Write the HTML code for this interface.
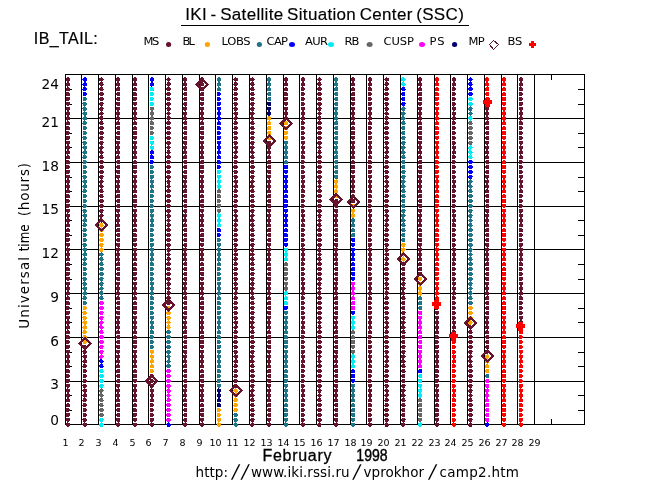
<!DOCTYPE html><html><head><meta charset="utf-8"><title>IKI - Satellite Situation Center (SSC)</title>
<style>html,body{margin:0;padding:0;background:#fff}svg{display:block}.hv{font-family:"Liberation Sans",Arial,Helvetica,sans-serif;fill:#000}.hs{font-family:"DejaVu Sans","Liberation Sans",sans-serif;fill:#000}</style></head><body>
<svg width="650" height="500" viewBox="0 0 650 500">
<rect width="650" height="500" fill="#fff"/>
<path shape-rendering="crispEdges" fill="#000" d="M65 74h1v351h-1zM81 74h1v351h-1zM98 74h1v351h-1zM115 74h1v351h-1zM132 74h1v351h-1zM148 74h1v351h-1zM165 74h1v351h-1zM182 74h1v351h-1zM199 74h1v351h-1zM215 74h1v351h-1zM232 74h1v351h-1zM249 74h1v351h-1zM266 74h1v351h-1zM283 74h1v351h-1zM299 74h1v351h-1zM316 74h1v351h-1zM333 74h1v351h-1zM350 74h1v351h-1zM366 74h1v351h-1zM383 74h1v351h-1zM400 74h1v351h-1zM417 74h1v351h-1zM434 74h1v351h-1zM450 74h1v351h-1zM467 74h1v351h-1zM484 74h1v351h-1zM501 74h1v351h-1zM517 74h1v351h-1zM534 74h1v351h-1zM584 74h1v351h-1zM65 74h520v1h-520zM65 118h520v1h-520zM65 162h520v1h-520zM65 206h520v1h-520zM65 249h520v1h-520zM65 293h520v1h-520zM65 337h520v1h-520zM65 381h520v1h-520zM65 424h520v1h-520zM66 89h6v1h-6zM578 89h6v1h-6zM66 104h6v1h-6zM578 104h6v1h-6zM66 133h6v1h-6zM578 133h6v1h-6zM66 147h6v1h-6zM578 147h6v1h-6zM66 177h6v1h-6zM578 177h6v1h-6zM66 191h6v1h-6zM578 191h6v1h-6zM66 220h6v1h-6zM578 220h6v1h-6zM66 235h6v1h-6zM578 235h6v1h-6zM66 264h6v1h-6zM578 264h6v1h-6zM66 279h6v1h-6zM578 279h6v1h-6zM66 308h6v1h-6zM578 308h6v1h-6zM66 322h6v1h-6zM578 322h6v1h-6zM66 352h6v1h-6zM578 352h6v1h-6zM66 366h6v1h-6zM578 366h6v1h-6zM66 395h6v1h-6zM578 395h6v1h-6zM66 410h6v1h-6zM578 410h6v1h-6zM551 75h1v5h-1zM551 419h1v5h-1z"/>
<path shape-rendering="crispEdges" fill="#66142B" d="M67 422h1v1h-1zM66 423h4v3h-4zM67 426h2v1h-2zM66 418h4v3h-4zM67 421h2v1h-2zM66 413h4v3h-4zM66 416h3v1h-3zM66 408h3v1h-3zM66 409h4v2h-4zM66 411h3v1h-3zM67 403h2v1h-2zM66 404h4v3h-4zM67 398h2v1h-2zM66 399h4v3h-4zM67 393h2v1h-2zM66 394h4v3h-4zM67 397h2v1h-2zM67 388h1v1h-1zM66 389h4v3h-4zM67 392h2v1h-2zM66 384h4v3h-4zM67 387h2v1h-2zM66 379h4v3h-4zM66 382h3v1h-3zM66 374h3v1h-3zM66 375h4v2h-4zM66 377h3v1h-3zM66 369h3v1h-3zM66 370h4v3h-4zM67 364h2v1h-2zM66 365h4v3h-4zM67 359h2v1h-2zM66 360h4v3h-4zM67 363h2v1h-2zM67 354h2v1h-2zM66 355h4v3h-4zM67 358h2v1h-2zM66 350h4v3h-4zM67 353h2v1h-2zM66 345h4v3h-4zM66 348h3v1h-3zM66 340h3v1h-3zM66 341h4v2h-4zM66 343h3v1h-3zM66 335h3v1h-3zM66 336h4v3h-4zM67 330h2v1h-2zM66 331h4v3h-4zM67 325h2v1h-2zM66 326h4v3h-4zM67 329h1v1h-1zM67 320h2v1h-2zM66 321h4v3h-4zM67 324h2v1h-2zM66 316h4v3h-4zM67 319h2v1h-2zM66 311h4v3h-4zM66 314h3v1h-3zM66 306h3v1h-3zM66 307h4v2h-4zM66 309h3v1h-3zM66 301h3v1h-3zM66 302h4v3h-4zM67 296h2v1h-2zM66 297h4v3h-4zM67 291h2v1h-2zM66 292h4v3h-4zM67 295h1v1h-1zM67 286h2v1h-2zM66 287h4v3h-4zM67 290h2v1h-2zM66 282h4v3h-4zM67 285h2v1h-2zM66 277h4v3h-4zM67 280h2v1h-2zM66 272h4v3h-4zM66 275h3v1h-3zM66 267h3v1h-3zM66 268h4v3h-4zM67 262h2v1h-2zM66 263h4v3h-4zM67 257h2v1h-2zM66 258h4v3h-4zM67 252h2v1h-2zM66 253h4v3h-4zM67 256h2v1h-2zM67 247h1v1h-1zM66 248h4v3h-4zM67 251h2v1h-2zM66 243h4v3h-4zM67 246h2v1h-2zM66 238h4v3h-4zM66 241h3v1h-3zM66 233h3v1h-3zM66 234h4v2h-4zM66 236h3v1h-3zM67 228h2v1h-2zM66 229h4v3h-4zM67 223h2v1h-2zM66 224h4v3h-4zM67 218h2v1h-2zM66 219h4v3h-4zM67 222h2v1h-2zM67 213h1v1h-1zM66 214h4v3h-4zM67 217h2v1h-2zM66 209h4v3h-4zM67 212h2v1h-2zM66 204h4v3h-4zM66 207h3v1h-3zM66 199h3v1h-3zM66 200h4v2h-4zM66 202h3v1h-3zM66 194h3v1h-3zM66 195h4v3h-4zM67 189h2v1h-2zM66 190h4v3h-4zM67 184h2v1h-2zM66 185h4v3h-4zM67 188h2v1h-2zM67 179h2v1h-2zM66 180h4v3h-4zM67 183h2v1h-2zM66 175h4v3h-4zM67 178h2v1h-2zM66 170h4v3h-4zM66 173h3v1h-3zM66 165h3v1h-3zM66 166h4v2h-4zM66 168h3v1h-3zM66 160h3v1h-3zM66 161h4v3h-4zM67 155h2v1h-2zM66 156h4v3h-4zM67 150h2v1h-2zM66 151h4v3h-4zM67 154h1v1h-1zM67 145h2v1h-2zM66 146h4v3h-4zM67 149h2v1h-2zM66 141h4v3h-4zM67 144h2v1h-2zM66 136h4v3h-4zM66 139h3v1h-3zM66 131h3v1h-3zM66 132h4v2h-4zM66 134h3v1h-3zM66 126h3v1h-3zM66 127h4v3h-4zM67 121h2v1h-2zM66 122h4v3h-4zM67 116h2v1h-2zM66 117h4v3h-4zM67 120h1v1h-1zM67 111h2v1h-2zM66 112h4v3h-4zM67 115h2v1h-2zM66 107h4v3h-4zM67 110h2v1h-2zM66 102h4v3h-4zM67 105h2v1h-2zM66 97h4v3h-4zM66 100h3v1h-3zM66 92h3v1h-3zM66 93h4v3h-4zM67 87h2v1h-2zM66 88h4v3h-4zM67 82h2v1h-2zM66 83h4v3h-4zM67 86h1v1h-1zM67 77h2v1h-2zM66 78h4v3h-4zM67 81h2v1h-2zM84 422h1v1h-1zM83 423h4v1h-4zM82 424h5v1h-5zM83 425h4v1h-4zM84 426h2v1h-2zM83 418h3v1h-3zM82 419h5v1h-5zM83 420h4v1h-4zM83 421h3v1h-3zM83 413h3v1h-3zM83 414h4v2h-4zM83 416h3v1h-3zM83 408h3v1h-3zM83 409h4v2h-4zM83 411h3v1h-3zM83 403h3v1h-3zM83 404h4v1h-4zM82 405h5v1h-5zM83 406h3v1h-3zM83 398h3v1h-3zM83 399h4v1h-4zM82 400h5v1h-5zM83 401h3v1h-3zM84 393h2v1h-2zM83 394h4v1h-4zM82 395h5v1h-5zM83 396h4v1h-4zM84 397h1v1h-1zM84 388h1v1h-1zM83 389h4v1h-4zM82 390h5v1h-5zM83 391h4v1h-4zM84 392h2v1h-2zM83 384h3v1h-3zM82 385h5v1h-5zM83 386h4v1h-4zM83 387h3v1h-3zM83 379h3v1h-3zM83 380h4v2h-4zM83 382h3v1h-3zM83 374h3v1h-3zM83 375h4v2h-4zM83 377h3v1h-3zM83 369h3v1h-3zM83 370h4v2h-4zM83 372h3v1h-3zM83 364h3v1h-3zM83 365h4v1h-4zM82 366h5v1h-5zM83 367h3v1h-3zM84 359h2v1h-2zM83 360h4v1h-4zM82 361h5v1h-5zM83 362h4v1h-4zM84 363h1v1h-1zM84 354h1v1h-1zM83 355h4v1h-4zM82 356h5v1h-5zM83 357h4v1h-4zM84 358h2v1h-2zM83 350h3v1h-3zM82 351h5v1h-5zM83 352h4v1h-4zM83 353h3v1h-3zM83 345h3v1h-3zM83 346h4v2h-4zM83 348h3v1h-3zM100 218h2v1h-2zM99 219h4v1h-4zM99 220h5v1h-5zM100 221h3v1h-3zM101 222h1v1h-1zM101 213h1v1h-1zM100 214h3v1h-3zM99 215h5v1h-5zM99 216h4v1h-4zM100 217h2v1h-2zM100 209h3v1h-3zM99 210h5v1h-5zM99 211h4v1h-4zM100 212h3v1h-3zM100 204h3v1h-3zM99 205h5v2h-5zM100 207h3v1h-3zM100 199h3v1h-3zM99 200h5v2h-5zM100 202h3v1h-3zM100 194h3v1h-3zM99 195h4v1h-4zM99 196h5v1h-5zM100 197h3v1h-3zM100 189h3v1h-3zM99 190h4v1h-4zM99 191h5v1h-5zM100 192h3v1h-3zM100 184h2v1h-2zM99 185h4v1h-4zM99 186h5v1h-5zM100 187h3v1h-3zM101 188h1v1h-1zM101 179h1v1h-1zM100 180h3v1h-3zM99 181h5v1h-5zM99 182h4v1h-4zM100 183h2v1h-2zM100 175h3v1h-3zM99 176h5v1h-5zM99 177h4v1h-4zM100 178h3v1h-3zM100 170h3v1h-3zM99 171h5v2h-5zM100 173h3v1h-3zM100 165h3v1h-3zM99 166h5v2h-5zM100 168h3v1h-3zM100 160h3v1h-3zM99 161h5v2h-5zM100 163h3v1h-3zM100 155h3v1h-3zM99 156h4v1h-4zM99 157h5v1h-5zM100 158h3v1h-3zM100 150h2v1h-2zM99 151h4v1h-4zM99 152h5v1h-5zM100 153h3v1h-3zM101 154h1v1h-1zM101 145h1v1h-1zM100 146h3v1h-3zM99 147h5v1h-5zM99 148h4v1h-4zM100 149h2v1h-2zM100 141h3v1h-3zM99 142h5v1h-5zM99 143h4v1h-4zM100 144h3v1h-3zM100 136h3v1h-3zM99 137h5v1h-5zM99 138h4v1h-4zM100 139h3v1h-3zM100 131h3v1h-3zM99 132h5v2h-5zM100 134h3v1h-3zM100 126h3v1h-3zM99 127h5v2h-5zM100 129h3v1h-3zM100 121h3v1h-3zM99 122h4v1h-4zM99 123h5v1h-5zM100 124h3v1h-3zM100 116h3v1h-3zM99 117h4v1h-4zM99 118h5v1h-5zM100 119h3v1h-3zM101 120h1v1h-1zM101 111h1v1h-1zM100 112h3v1h-3zM99 113h5v1h-5zM99 114h4v1h-4zM101 115h1v1h-1zM101 106h1v1h-1zM100 107h3v1h-3zM99 108h5v1h-5zM99 109h4v1h-4zM100 110h3v1h-3zM100 102h3v1h-3zM99 103h5v1h-5zM99 104h4v1h-4zM100 105h3v1h-3zM100 97h3v1h-3zM99 98h5v2h-5zM100 100h3v1h-3zM100 92h3v1h-3zM99 93h5v2h-5zM100 95h3v1h-3zM100 87h3v1h-3zM99 88h4v1h-4zM99 89h5v1h-5zM100 90h3v1h-3zM100 82h3v1h-3zM99 83h4v1h-4zM99 84h5v1h-5zM100 85h3v1h-3zM101 86h1v1h-1zM101 77h1v1h-1zM99 78h4v1h-4zM99 79h5v1h-5zM99 80h4v1h-4zM101 81h1v1h-1zM118 422h1v1h-1zM116 423h4v3h-4zM117 426h2v1h-2zM116 418h4v3h-4zM117 421h3v1h-3zM117 413h3v1h-3zM116 414h4v2h-4zM117 416h3v1h-3zM117 408h3v1h-3zM116 409h4v2h-4zM117 411h3v1h-3zM117 403h3v1h-3zM116 404h4v3h-4zM117 398h2v1h-2zM116 399h4v3h-4zM117 393h2v1h-2zM116 394h4v3h-4zM117 397h2v1h-2zM118 388h1v1h-1zM116 389h4v3h-4zM117 392h2v1h-2zM116 384h4v3h-4zM117 387h2v1h-2zM117 379h3v1h-3zM116 380h4v2h-4zM117 382h3v1h-3zM117 374h3v1h-3zM116 375h4v2h-4zM117 377h3v1h-3zM117 369h3v1h-3zM116 370h4v3h-4zM117 364h2v1h-2zM116 365h4v3h-4zM117 359h2v1h-2zM116 360h4v3h-4zM118 363h1v1h-1zM118 354h1v1h-1zM116 355h4v3h-4zM117 358h2v1h-2zM116 350h4v3h-4zM117 353h2v1h-2zM116 345h4v3h-4zM117 348h3v1h-3zM117 340h3v1h-3zM116 341h4v2h-4zM117 343h3v1h-3zM117 335h3v1h-3zM116 336h4v2h-4zM117 338h3v1h-3zM117 330h2v1h-2zM116 331h4v3h-4zM117 325h2v1h-2zM116 326h4v3h-4zM118 329h1v1h-1zM117 320h2v1h-2zM116 321h4v3h-4zM117 324h2v1h-2zM116 316h4v3h-4zM117 319h2v1h-2zM116 311h4v3h-4zM117 314h3v1h-3zM117 306h3v1h-3zM116 307h4v2h-4zM117 309h3v1h-3zM117 301h3v1h-3zM116 302h4v2h-4zM117 304h3v1h-3zM117 296h2v1h-2zM116 297h4v3h-4zM117 291h2v1h-2zM116 292h4v3h-4zM118 295h1v1h-1zM117 286h2v1h-2zM116 287h4v3h-4zM117 290h2v1h-2zM116 282h4v3h-4zM117 285h2v1h-2zM116 277h4v3h-4zM117 280h3v1h-3zM117 272h3v1h-3zM116 273h4v2h-4zM117 275h3v1h-3zM117 267h3v1h-3zM116 268h4v2h-4zM117 270h3v1h-3zM117 262h3v1h-3zM116 263h4v3h-4zM117 257h2v1h-2zM116 258h4v3h-4zM118 261h1v1h-1zM117 252h2v1h-2zM116 253h4v3h-4zM117 256h2v1h-2zM118 247h1v1h-1zM116 248h4v3h-4zM117 251h2v1h-2zM116 243h4v3h-4zM117 246h3v1h-3zM117 238h3v1h-3zM116 239h4v2h-4zM117 241h3v1h-3zM117 233h3v1h-3zM116 234h4v2h-4zM117 236h3v1h-3zM117 228h3v1h-3zM116 229h4v3h-4zM117 223h2v1h-2zM116 224h4v3h-4zM117 218h2v1h-2zM116 219h4v3h-4zM117 222h2v1h-2zM118 213h1v1h-1zM116 214h4v3h-4zM117 217h2v1h-2zM116 209h4v3h-4zM117 212h2v1h-2zM117 204h3v1h-3zM116 205h4v2h-4zM117 207h3v1h-3zM117 199h3v1h-3zM116 200h4v2h-4zM117 202h3v1h-3zM117 194h3v1h-3zM116 195h4v3h-4zM117 189h2v1h-2zM116 190h4v3h-4zM117 184h2v1h-2zM116 185h4v3h-4zM117 188h2v1h-2zM118 179h1v1h-1zM116 180h4v3h-4zM117 183h2v1h-2zM116 175h4v3h-4zM117 178h2v1h-2zM116 170h4v3h-4zM117 173h3v1h-3zM117 165h3v1h-3zM116 166h4v2h-4zM117 168h3v1h-3zM117 160h3v1h-3zM116 161h4v2h-4zM117 163h3v1h-3zM117 155h2v1h-2zM116 156h4v3h-4zM117 150h2v1h-2zM116 151h4v3h-4zM118 154h1v1h-1zM117 145h2v1h-2zM116 146h4v3h-4zM117 149h2v1h-2zM116 141h4v3h-4zM117 144h2v1h-2zM116 136h4v3h-4zM117 139h3v1h-3zM117 131h3v1h-3zM116 132h4v2h-4zM117 134h3v1h-3zM117 126h3v1h-3zM116 127h4v2h-4zM117 129h3v1h-3zM117 121h2v1h-2zM116 122h4v3h-4zM117 116h2v1h-2zM116 117h4v3h-4zM118 120h1v1h-1zM117 111h2v1h-2zM116 112h4v3h-4zM117 115h2v1h-2zM116 107h4v3h-4zM117 110h2v1h-2zM116 102h4v3h-4zM117 105h3v1h-3zM117 97h3v1h-3zM116 98h4v2h-4zM117 100h3v1h-3zM117 92h3v1h-3zM116 93h4v2h-4zM117 95h3v1h-3zM117 87h3v1h-3zM116 88h4v3h-4zM117 82h2v1h-2zM116 83h4v3h-4zM118 86h1v1h-1zM117 77h2v1h-2zM116 78h4v3h-4zM117 81h2v1h-2zM133 423h4v3h-4zM134 426h2v1h-2zM133 418h4v3h-4zM134 421h2v1h-2zM133 413h4v3h-4zM133 416h3v1h-3zM133 408h3v1h-3zM133 409h4v3h-4zM134 403h2v1h-2zM133 404h4v3h-4zM134 398h2v1h-2zM133 399h4v3h-4zM134 393h2v1h-2zM133 394h4v3h-4zM134 397h2v1h-2zM134 388h2v1h-2zM133 389h4v3h-4zM134 392h2v1h-2zM133 384h4v3h-4zM134 387h2v1h-2zM133 379h4v3h-4zM134 382h2v1h-2zM133 374h4v4h-4zM134 369h2v1h-2zM133 370h4v3h-4zM134 364h2v1h-2zM133 365h4v3h-4zM134 359h2v1h-2zM133 360h4v3h-4zM134 363h2v1h-2zM134 354h2v1h-2zM133 355h4v3h-4zM134 358h2v1h-2zM133 350h4v3h-4zM134 353h2v1h-2zM133 345h4v3h-4zM134 348h2v1h-2zM133 340h4v4h-4zM134 335h2v1h-2zM133 336h4v3h-4zM134 330h2v1h-2zM133 331h4v3h-4zM134 325h2v1h-2zM133 326h4v3h-4zM134 329h2v1h-2zM134 320h2v1h-2zM133 321h4v3h-4zM134 324h2v1h-2zM133 316h4v3h-4zM134 319h2v1h-2zM133 311h4v3h-4zM134 314h2v1h-2zM133 306h4v4h-4zM134 301h2v1h-2zM133 302h4v3h-4zM134 296h2v1h-2zM133 297h4v3h-4zM134 291h2v1h-2zM133 292h4v3h-4zM134 295h1v1h-1zM134 286h2v1h-2zM133 287h4v3h-4zM134 290h2v1h-2zM133 282h4v3h-4zM134 285h2v1h-2zM133 277h4v3h-4zM134 280h2v1h-2zM133 272h4v3h-4zM133 275h3v1h-3zM133 267h3v1h-3zM133 268h4v3h-4zM134 262h2v1h-2zM133 263h4v3h-4zM134 257h2v1h-2zM133 258h4v3h-4zM134 252h2v1h-2zM133 253h4v3h-4zM134 256h2v1h-2zM133 248h4v3h-4zM134 251h2v1h-2zM133 243h4v3h-4zM134 246h2v1h-2zM133 238h4v3h-4zM133 241h3v1h-3zM133 233h3v1h-3zM133 234h4v3h-4zM134 228h2v1h-2zM133 229h4v3h-4zM134 223h2v1h-2zM133 224h4v3h-4zM134 218h2v1h-2zM133 219h4v3h-4zM134 222h2v1h-2zM134 213h2v1h-2zM133 214h4v3h-4zM134 217h2v1h-2zM133 209h4v3h-4zM134 212h2v1h-2zM133 204h4v3h-4zM134 207h2v1h-2zM133 199h4v4h-4zM134 194h2v1h-2zM133 195h4v3h-4zM134 189h2v1h-2zM133 190h4v3h-4zM134 184h2v1h-2zM133 185h4v3h-4zM134 188h2v1h-2zM134 179h2v1h-2zM133 180h4v3h-4zM134 183h2v1h-2zM133 175h4v3h-4zM134 178h2v1h-2zM133 170h4v3h-4zM134 173h2v1h-2zM133 165h4v4h-4zM134 160h2v1h-2zM133 161h4v3h-4zM134 155h2v1h-2zM133 156h4v3h-4zM134 150h2v1h-2zM133 151h4v3h-4zM134 154h2v1h-2zM134 145h2v1h-2zM133 146h4v3h-4zM134 149h2v1h-2zM133 141h4v3h-4zM134 144h2v1h-2zM133 136h4v3h-4zM134 139h2v1h-2zM133 131h4v4h-4zM134 126h2v1h-2zM133 127h4v3h-4zM134 121h2v1h-2zM133 122h4v3h-4zM134 116h2v1h-2zM133 117h4v3h-4zM134 120h1v1h-1zM134 111h2v1h-2zM133 112h4v3h-4zM134 115h2v1h-2zM133 107h4v3h-4zM134 110h2v1h-2zM133 102h4v3h-4zM134 105h2v1h-2zM133 97h4v3h-4zM133 100h3v1h-3zM133 92h3v1h-3zM133 93h4v3h-4zM134 87h2v1h-2zM133 88h4v3h-4zM134 82h2v1h-2zM133 83h4v3h-4zM134 77h2v1h-2zM133 78h4v3h-4zM134 81h2v1h-2zM151 422h1v1h-1zM150 423h4v3h-4zM151 426h2v1h-2zM150 418h4v3h-4zM150 421h3v1h-3zM150 413h3v1h-3zM150 414h4v2h-4zM150 416h3v1h-3zM150 408h3v1h-3zM150 409h4v2h-4zM150 411h3v1h-3zM150 403h3v1h-3zM150 404h4v2h-4zM150 406h3v1h-3zM151 398h2v1h-2zM150 399h4v3h-4zM151 393h2v1h-2zM150 394h4v3h-4zM151 397h2v1h-2zM151 388h1v1h-1zM150 389h4v3h-4zM151 392h2v1h-2zM150 384h4v3h-4zM150 387h3v1h-3zM150 379h3v1h-3zM150 380h4v2h-4zM150 382h3v1h-3zM150 374h3v1h-3zM150 375h4v2h-4zM150 377h3v1h-3zM167 301h3v1h-3zM166 302h5v2h-5zM167 304h3v1h-3zM167 296h3v1h-3zM166 297h5v2h-5zM167 299h3v1h-3zM167 291h3v1h-3zM167 292h4v1h-4zM166 293h5v1h-5zM167 294h3v1h-3zM168 295h1v1h-1zM168 286h1v1h-1zM167 287h3v1h-3zM166 288h5v1h-5zM167 289h3v1h-3zM168 290h1v1h-1zM168 281h1v1h-1zM167 282h3v1h-3zM166 283h5v1h-5zM167 284h4v1h-4zM167 285h3v1h-3zM167 277h3v1h-3zM166 278h5v2h-5zM167 280h3v1h-3zM167 272h3v1h-3zM166 273h5v2h-5zM167 275h3v1h-3zM167 267h3v1h-3zM166 268h5v2h-5zM167 270h3v1h-3zM167 262h3v1h-3zM166 263h5v2h-5zM167 265h3v1h-3zM167 257h3v1h-3zM167 258h4v1h-4zM166 259h5v1h-5zM167 260h3v1h-3zM168 261h1v1h-1zM168 252h1v1h-1zM167 253h3v1h-3zM166 254h5v1h-5zM167 255h3v1h-3zM168 256h1v1h-1zM168 247h1v1h-1zM167 248h3v1h-3zM166 249h5v1h-5zM167 250h4v1h-4zM167 251h3v1h-3zM167 243h3v1h-3zM166 244h5v2h-5zM167 246h3v1h-3zM167 238h3v1h-3zM166 239h5v2h-5zM167 241h3v1h-3zM167 233h3v1h-3zM166 234h5v2h-5zM167 236h3v1h-3zM167 228h3v1h-3zM166 229h5v2h-5zM167 231h3v1h-3zM167 223h3v1h-3zM167 224h4v1h-4zM166 225h5v1h-5zM167 226h3v1h-3zM168 227h1v1h-1zM168 218h1v1h-1zM167 219h3v1h-3zM166 220h5v1h-5zM167 221h3v1h-3zM168 222h1v1h-1zM168 213h1v1h-1zM167 214h3v1h-3zM166 215h5v1h-5zM167 216h4v1h-4zM167 217h3v1h-3zM167 209h3v1h-3zM166 210h5v2h-5zM167 212h3v1h-3zM167 204h3v1h-3zM166 205h5v2h-5zM167 207h3v1h-3zM167 199h3v1h-3zM166 200h5v2h-5zM167 202h3v1h-3zM167 194h3v1h-3zM166 195h5v2h-5zM167 197h3v1h-3zM167 189h3v1h-3zM166 190h5v2h-5zM167 192h3v1h-3zM168 184h2v1h-2zM167 185h3v1h-3zM166 186h5v1h-5zM167 187h3v1h-3zM168 188h1v1h-1zM168 179h1v1h-1zM167 180h3v1h-3zM166 181h5v1h-5zM167 182h3v2h-3zM167 175h3v1h-3zM166 176h5v2h-5zM167 178h3v1h-3zM167 170h3v1h-3zM166 171h5v2h-5zM167 173h3v1h-3zM167 165h3v1h-3zM166 166h5v2h-5zM167 168h3v1h-3zM167 160h3v1h-3zM166 161h5v2h-5zM167 163h3v1h-3zM167 155h3v1h-3zM166 156h5v2h-5zM167 158h3v1h-3zM167 150h3v2h-3zM166 152h5v1h-5zM167 153h3v1h-3zM168 154h1v1h-1zM168 145h1v1h-1zM167 146h3v1h-3zM166 147h5v1h-5zM167 148h3v1h-3zM168 149h1v1h-1zM167 141h3v1h-3zM166 142h5v2h-5zM167 144h3v1h-3zM167 136h3v1h-3zM166 137h5v2h-5zM167 139h3v1h-3zM167 131h3v1h-3zM166 132h5v2h-5zM167 134h3v1h-3zM167 126h3v1h-3zM166 127h5v2h-5zM167 129h3v1h-3zM167 121h3v1h-3zM166 122h5v2h-5zM167 124h3v1h-3zM167 116h3v1h-3zM167 117h4v1h-4zM166 118h5v1h-5zM167 119h3v1h-3zM168 120h1v1h-1zM168 111h1v1h-1zM167 112h3v1h-3zM166 113h5v1h-5zM167 114h3v1h-3zM168 115h1v1h-1zM168 106h1v1h-1zM167 107h3v1h-3zM166 108h5v1h-5zM167 109h4v1h-4zM167 110h3v1h-3zM167 102h3v1h-3zM166 103h5v2h-5zM167 105h3v1h-3zM167 97h3v1h-3zM166 98h5v2h-5zM167 100h3v1h-3zM167 92h3v1h-3zM166 93h5v2h-5zM167 95h3v1h-3zM167 87h3v1h-3zM166 88h5v2h-5zM167 90h3v1h-3zM167 82h3v1h-3zM167 83h4v1h-4zM166 84h5v1h-5zM167 85h3v1h-3zM168 86h1v1h-1zM168 77h1v1h-1zM167 78h3v1h-3zM166 79h5v1h-5zM167 80h3v1h-3zM168 81h1v1h-1zM185 422h1v1h-1zM183 423h4v3h-4zM184 426h2v1h-2zM184 418h3v1h-3zM183 419h4v2h-4zM184 421h3v1h-3zM184 413h3v1h-3zM183 414h4v2h-4zM184 416h3v1h-3zM184 408h3v1h-3zM183 409h4v2h-4zM184 411h3v1h-3zM184 403h3v1h-3zM183 404h4v2h-4zM184 406h3v1h-3zM184 398h2v1h-2zM183 399h4v3h-4zM184 393h2v1h-2zM183 394h4v3h-4zM185 397h1v1h-1zM185 388h1v1h-1zM183 389h4v3h-4zM184 392h2v1h-2zM184 384h3v1h-3zM183 385h4v2h-4zM184 387h3v1h-3zM184 379h3v1h-3zM183 380h4v2h-4zM184 382h3v1h-3zM184 374h3v1h-3zM183 375h4v2h-4zM184 377h3v1h-3zM184 369h3v1h-3zM183 370h4v2h-4zM184 372h3v1h-3zM184 364h3v1h-3zM183 365h4v3h-4zM184 359h2v1h-2zM183 360h4v3h-4zM185 363h1v1h-1zM185 354h1v1h-1zM183 355h4v3h-4zM184 358h2v1h-2zM183 350h4v3h-4zM184 353h3v1h-3zM184 345h3v1h-3zM183 346h4v2h-4zM184 348h3v1h-3zM184 340h3v1h-3zM183 341h4v2h-4zM184 343h3v1h-3zM184 335h3v1h-3zM183 336h4v2h-4zM184 338h3v1h-3zM184 330h3v1h-3zM183 331h4v3h-4zM184 325h2v1h-2zM183 326h4v3h-4zM185 329h1v1h-1zM185 320h1v1h-1zM183 321h4v3h-4zM184 324h2v1h-2zM183 316h4v3h-4zM184 319h2v1h-2zM184 311h3v1h-3zM183 312h4v2h-4zM184 314h3v1h-3zM184 306h3v1h-3zM183 307h4v2h-4zM184 309h3v1h-3zM184 301h3v1h-3zM183 302h4v2h-4zM184 304h3v1h-3zM184 296h3v1h-3zM183 297h4v2h-4zM184 299h3v1h-3zM184 291h2v1h-2zM183 292h4v3h-4zM185 295h1v1h-1zM184 286h2v1h-2zM183 287h4v3h-4zM184 290h2v1h-2zM185 281h1v1h-1zM183 282h4v3h-4zM184 285h2v1h-2zM184 277h3v1h-3zM183 278h4v2h-4zM184 280h3v1h-3zM184 272h3v1h-3zM183 273h4v2h-4zM184 275h3v1h-3zM184 267h3v1h-3zM183 268h4v2h-4zM184 270h3v1h-3zM184 262h3v1h-3zM183 263h4v2h-4zM184 265h3v1h-3zM184 257h2v1h-2zM183 258h4v3h-4zM185 261h1v1h-1zM184 252h2v1h-2zM183 253h4v3h-4zM184 256h2v1h-2zM185 247h1v1h-1zM183 248h4v3h-4zM184 251h2v1h-2zM184 243h3v1h-3zM183 244h4v2h-4zM184 246h3v1h-3zM184 238h3v1h-3zM183 239h4v2h-4zM184 241h3v1h-3zM184 233h3v1h-3zM183 234h4v2h-4zM184 236h3v1h-3zM184 228h3v1h-3zM183 229h4v2h-4zM184 231h3v1h-3zM184 223h2v1h-2zM183 224h4v3h-4zM184 218h2v1h-2zM183 219h4v3h-4zM185 222h1v1h-1zM185 213h1v1h-1zM183 214h4v3h-4zM184 217h2v1h-2zM184 209h3v1h-3zM183 210h4v2h-4zM184 212h3v1h-3zM184 204h3v1h-3zM183 205h4v2h-4zM184 207h3v1h-3zM184 199h3v1h-3zM183 200h4v2h-4zM184 202h3v1h-3zM184 194h3v1h-3zM183 195h4v2h-4zM184 197h3v1h-3zM184 189h3v1h-3zM183 190h4v3h-4zM184 184h2v1h-2zM183 185h4v3h-4zM185 188h1v1h-1zM185 179h1v1h-1zM183 180h4v3h-4zM184 183h2v1h-2zM183 175h4v3h-4zM184 178h3v1h-3zM184 170h3v1h-3zM183 171h4v2h-4zM184 173h3v1h-3zM184 165h3v1h-3zM183 166h4v2h-4zM184 168h3v1h-3zM184 160h3v1h-3zM183 161h4v2h-4zM184 163h3v1h-3zM184 155h3v1h-3zM183 156h4v3h-4zM184 150h2v1h-2zM183 151h4v3h-4zM185 154h1v1h-1zM185 145h1v1h-1zM183 146h4v3h-4zM184 149h2v1h-2zM183 141h4v3h-4zM184 144h3v1h-3zM184 136h3v1h-3zM183 137h4v2h-4zM184 139h3v1h-3zM184 131h3v1h-3zM183 132h4v2h-4zM184 134h3v1h-3zM184 126h3v1h-3zM183 127h4v2h-4zM184 129h3v1h-3zM184 121h3v1h-3zM183 122h4v2h-4zM184 124h3v1h-3zM184 116h2v1h-2zM183 117h4v3h-4zM185 120h1v1h-1zM185 111h1v1h-1zM183 112h4v3h-4zM184 115h2v1h-2zM185 106h1v1h-1zM183 107h4v3h-4zM184 110h2v1h-2zM184 102h3v1h-3zM183 103h4v2h-4zM184 105h3v1h-3zM184 97h3v1h-3zM183 98h4v2h-4zM184 100h3v1h-3zM184 92h3v1h-3zM183 93h4v2h-4zM184 95h3v1h-3zM184 87h3v1h-3zM183 88h4v2h-4zM184 90h3v1h-3zM184 82h2v1h-2zM183 83h4v3h-4zM185 86h1v1h-1zM184 77h2v1h-2zM183 78h4v3h-4zM184 81h2v1h-2zM202 422h1v1h-1zM200 423h4v3h-4zM201 426h2v1h-2zM200 418h4v3h-4zM201 421h2v1h-2zM200 413h4v3h-4zM201 416h3v1h-3zM201 408h3v1h-3zM200 409h4v3h-4zM201 403h2v1h-2zM200 404h4v3h-4zM201 398h2v1h-2zM200 399h4v3h-4zM201 393h2v1h-2zM200 394h4v3h-4zM201 397h2v1h-2zM202 388h1v1h-1zM200 389h4v3h-4zM201 392h2v1h-2zM200 384h4v3h-4zM201 387h2v1h-2zM200 379h4v3h-4zM201 382h3v1h-3zM201 374h3v1h-3zM200 375h4v3h-4zM201 369h2v1h-2zM200 370h4v3h-4zM201 364h2v1h-2zM200 365h4v3h-4zM201 359h2v1h-2zM200 360h4v3h-4zM201 363h2v1h-2zM201 354h2v1h-2zM200 355h4v3h-4zM201 358h2v1h-2zM200 350h4v3h-4zM201 353h2v1h-2zM200 345h4v3h-4zM201 348h2v1h-2zM200 340h4v4h-4zM201 335h3v1h-3zM200 336h4v3h-4zM201 330h2v1h-2zM200 331h4v3h-4zM201 325h2v1h-2zM200 326h4v3h-4zM201 329h2v1h-2zM201 320h2v1h-2zM200 321h4v3h-4zM201 324h2v1h-2zM200 316h4v3h-4zM201 319h2v1h-2zM200 311h4v3h-4zM201 314h2v1h-2zM200 306h4v3h-4zM201 309h3v1h-3zM201 301h3v1h-3zM200 302h4v3h-4zM201 296h2v1h-2zM200 297h4v3h-4zM201 291h2v1h-2zM200 292h4v3h-4zM202 295h1v1h-1zM201 286h2v1h-2zM200 287h4v3h-4zM201 290h2v1h-2zM200 282h4v3h-4zM201 285h2v1h-2zM200 277h4v3h-4zM201 280h2v1h-2zM200 272h4v3h-4zM201 275h3v1h-3zM201 267h3v1h-3zM200 268h4v3h-4zM201 262h2v1h-2zM200 263h4v3h-4zM201 257h2v1h-2zM200 258h4v3h-4zM201 252h2v1h-2zM200 253h4v3h-4zM201 256h2v1h-2zM200 248h4v3h-4zM201 251h2v1h-2zM200 243h4v3h-4zM201 246h2v1h-2zM200 238h4v3h-4zM201 241h3v1h-3zM201 233h3v1h-3zM200 234h4v3h-4zM201 228h2v1h-2zM200 229h4v3h-4zM201 223h2v1h-2zM200 224h4v3h-4zM201 218h2v1h-2zM200 219h4v3h-4zM201 222h2v1h-2zM202 213h1v1h-1zM200 214h4v3h-4zM201 217h2v1h-2zM200 209h4v3h-4zM201 212h2v1h-2zM200 204h4v3h-4zM201 207h3v1h-3zM201 199h3v1h-3zM200 200h4v3h-4zM201 194h2v1h-2zM200 195h4v3h-4zM201 189h2v1h-2zM200 190h4v3h-4zM201 184h2v1h-2zM200 185h4v3h-4zM201 188h2v1h-2zM201 179h2v1h-2zM200 180h4v3h-4zM201 183h2v1h-2zM200 175h4v3h-4zM201 178h2v1h-2zM200 170h4v3h-4zM201 173h2v1h-2zM200 165h4v4h-4zM201 160h3v1h-3zM200 161h4v3h-4zM201 155h2v1h-2zM200 156h4v3h-4zM201 150h2v1h-2zM200 151h4v3h-4zM201 154h2v1h-2zM201 145h2v1h-2zM200 146h4v3h-4zM201 149h2v1h-2zM200 141h4v3h-4zM201 144h2v1h-2zM200 136h4v3h-4zM201 139h2v1h-2zM200 131h4v3h-4zM201 134h3v1h-3zM201 126h3v1h-3zM200 127h4v3h-4zM201 121h2v1h-2zM200 122h4v3h-4zM201 116h2v1h-2zM200 117h4v3h-4zM202 120h1v1h-1zM201 111h2v1h-2zM200 112h4v3h-4zM201 115h2v1h-2zM200 107h4v3h-4zM201 110h2v1h-2zM200 102h4v3h-4zM201 105h2v1h-2zM200 97h4v3h-4zM201 100h3v1h-3zM201 92h3v1h-3zM200 93h4v3h-4zM201 87h2v1h-2zM200 88h4v3h-4zM201 82h2v1h-2zM200 83h4v3h-4zM201 77h2v1h-2zM200 78h4v3h-4zM201 81h2v1h-2zM234 384h3v1h-3zM233 385h5v1h-5zM234 386h4v1h-4zM234 387h3v1h-3zM234 379h3v1h-3zM233 380h5v1h-5zM234 381h4v1h-4zM234 382h3v1h-3zM234 374h3v1h-3zM234 375h4v1h-4zM233 376h5v1h-5zM234 377h3v1h-3zM234 369h3v1h-3zM234 370h4v1h-4zM233 371h5v1h-5zM234 372h3v1h-3zM234 364h3v1h-3zM234 365h4v1h-4zM233 366h5v1h-5zM234 367h3v1h-3zM235 359h2v1h-2zM234 360h4v1h-4zM233 361h5v1h-5zM234 362h4v1h-4zM235 363h1v1h-1zM235 354h1v1h-1zM234 355h4v1h-4zM233 356h5v1h-5zM234 357h4v1h-4zM235 358h2v1h-2zM234 350h3v1h-3zM233 351h5v1h-5zM234 352h4v1h-4zM234 353h3v1h-3zM234 345h3v1h-3zM233 346h5v1h-5zM234 347h4v1h-4zM234 348h3v1h-3zM234 340h3v1h-3zM233 341h5v2h-5zM234 343h3v1h-3zM234 335h3v1h-3zM234 336h4v1h-4zM233 337h5v1h-5zM234 338h3v1h-3zM234 330h3v1h-3zM234 331h4v1h-4zM233 332h5v1h-5zM234 333h3v1h-3zM235 325h2v1h-2zM234 326h4v1h-4zM233 327h5v1h-5zM234 328h3v1h-3zM235 329h1v1h-1zM235 320h1v1h-1zM234 321h4v1h-4zM233 322h5v1h-5zM234 323h4v1h-4zM235 324h2v1h-2zM234 316h3v1h-3zM233 317h5v1h-5zM234 318h4v1h-4zM234 319h3v1h-3zM234 311h3v1h-3zM233 312h5v1h-5zM234 313h4v1h-4zM234 314h3v1h-3zM234 306h3v1h-3zM233 307h5v1h-5zM234 308h4v1h-4zM234 309h3v1h-3zM234 301h3v1h-3zM234 302h4v1h-4zM233 303h5v1h-5zM234 304h3v1h-3zM234 296h3v1h-3zM234 297h4v1h-4zM233 298h5v1h-5zM234 299h3v1h-3zM235 291h2v1h-2zM234 292h4v1h-4zM233 293h5v1h-5zM234 294h3v1h-3zM235 295h1v1h-1zM235 286h1v1h-1zM234 287h4v1h-4zM233 288h5v1h-5zM234 289h4v1h-4zM235 290h2v1h-2zM235 281h1v1h-1zM234 282h3v1h-3zM233 283h5v1h-5zM234 284h4v1h-4zM234 285h3v1h-3zM234 277h3v1h-3zM233 278h5v1h-5zM234 279h4v1h-4zM234 280h3v1h-3zM234 272h3v1h-3zM233 273h5v1h-5zM234 274h4v1h-4zM234 275h3v1h-3zM234 267h3v1h-3zM234 268h4v1h-4zM233 269h5v1h-5zM234 270h3v1h-3zM234 262h3v1h-3zM234 263h4v1h-4zM233 264h5v1h-5zM234 265h3v1h-3zM234 257h3v1h-3zM234 258h4v1h-4zM233 259h5v1h-5zM234 260h3v1h-3zM235 261h1v1h-1zM235 252h1v1h-1zM234 253h4v1h-4zM233 254h5v1h-5zM234 255h4v1h-4zM235 256h1v1h-1zM235 247h1v1h-1zM234 248h3v1h-3zM233 249h5v1h-5zM234 250h4v1h-4zM234 251h3v1h-3zM234 243h3v1h-3zM233 244h5v1h-5zM234 245h4v1h-4zM234 246h3v1h-3zM234 238h3v1h-3zM233 239h5v1h-5zM234 240h4v1h-4zM234 241h3v1h-3zM234 233h3v1h-3zM234 234h4v1h-4zM233 235h5v1h-5zM234 236h3v1h-3zM234 228h3v1h-3zM234 229h4v1h-4zM233 230h5v1h-5zM234 231h3v1h-3zM234 223h3v1h-3zM234 224h4v1h-4zM233 225h5v1h-5zM234 226h3v1h-3zM235 227h1v1h-1zM235 218h2v1h-2zM234 219h4v1h-4zM233 220h5v1h-5zM234 221h4v1h-4zM235 222h1v1h-1zM235 213h1v1h-1zM234 214h3v1h-3zM233 215h5v1h-5zM234 216h4v1h-4zM235 217h2v1h-2zM234 209h3v1h-3zM233 210h5v1h-5zM234 211h4v1h-4zM234 212h3v1h-3zM234 204h3v1h-3zM233 205h5v1h-5zM234 206h4v1h-4zM234 207h3v1h-3zM234 199h3v1h-3zM234 200h4v1h-4zM233 201h5v1h-5zM234 202h3v1h-3zM234 194h3v1h-3zM234 195h4v1h-4zM233 196h5v1h-5zM234 197h3v1h-3zM234 189h3v1h-3zM234 190h4v1h-4zM233 191h5v1h-5zM234 192h3v1h-3zM235 184h2v1h-2zM234 185h4v1h-4zM233 186h5v1h-5zM234 187h4v1h-4zM235 188h1v1h-1zM235 179h1v1h-1zM234 180h4v1h-4zM233 181h5v1h-5zM234 182h4v1h-4zM235 183h2v1h-2zM234 175h3v1h-3zM233 176h5v1h-5zM234 177h4v1h-4zM234 178h3v1h-3zM234 170h3v1h-3zM233 171h5v1h-5zM234 172h4v1h-4zM234 173h3v1h-3zM234 165h3v1h-3zM233 166h5v2h-5zM234 168h3v1h-3zM234 160h3v1h-3zM234 161h4v1h-4zM233 162h5v1h-5zM234 163h3v1h-3zM234 155h3v1h-3zM234 156h4v1h-4zM233 157h5v1h-5zM234 158h3v1h-3zM235 150h2v1h-2zM234 151h4v1h-4zM233 152h5v1h-5zM234 153h3v1h-3zM235 154h1v1h-1zM235 145h1v1h-1zM234 146h4v1h-4zM233 147h5v1h-5zM234 148h4v1h-4zM235 149h2v1h-2zM234 141h3v1h-3zM233 142h5v1h-5zM234 143h4v1h-4zM234 144h3v1h-3zM234 136h3v1h-3zM233 137h5v1h-5zM234 138h4v1h-4zM234 139h3v1h-3zM234 131h3v1h-3zM233 132h5v1h-5zM234 133h4v1h-4zM234 134h3v1h-3zM234 126h3v1h-3zM234 127h4v1h-4zM233 128h5v1h-5zM234 129h3v1h-3zM234 121h3v1h-3zM234 122h4v1h-4zM233 123h5v1h-5zM234 124h3v1h-3zM235 116h2v1h-2zM234 117h4v1h-4zM233 118h5v1h-5zM234 119h3v1h-3zM235 120h1v1h-1zM235 111h1v1h-1zM234 112h4v1h-4zM233 113h5v1h-5zM234 114h4v1h-4zM235 115h2v1h-2zM235 106h1v1h-1zM234 107h3v1h-3zM233 108h5v1h-5zM234 109h4v1h-4zM234 110h3v1h-3zM234 102h3v1h-3zM233 103h5v1h-5zM234 104h4v1h-4zM234 105h3v1h-3zM234 97h3v1h-3zM233 98h5v1h-5zM234 99h4v1h-4zM234 100h3v1h-3zM234 92h3v1h-3zM234 93h4v1h-4zM233 94h5v1h-5zM234 95h3v1h-3zM234 87h3v1h-3zM234 88h4v1h-4zM233 89h5v1h-5zM234 90h3v1h-3zM234 82h3v1h-3zM234 83h4v1h-4zM233 84h5v1h-5zM234 85h3v1h-3zM235 86h1v1h-1zM235 77h1v1h-1zM234 78h4v1h-4zM233 79h5v1h-5zM234 80h4v1h-4zM235 81h1v1h-1zM252 422h1v1h-1zM251 423h3v1h-3zM250 424h5v1h-5zM250 425h4v1h-4zM251 426h2v1h-2zM251 418h3v1h-3zM250 419h5v1h-5zM250 420h4v1h-4zM251 421h3v1h-3zM251 413h3v1h-3zM250 414h5v1h-5zM250 415h4v1h-4zM251 416h3v1h-3zM251 408h3v1h-3zM250 409h4v1h-4zM250 410h5v1h-5zM251 411h3v1h-3zM251 403h3v1h-3zM250 404h4v1h-4zM250 405h5v1h-5zM251 406h3v1h-3zM251 398h3v1h-3zM250 399h4v1h-4zM250 400h5v1h-5zM251 401h3v1h-3zM251 393h2v1h-2zM250 394h4v1h-4zM250 395h5v1h-5zM250 396h4v1h-4zM252 397h1v1h-1zM252 388h1v1h-1zM251 389h3v1h-3zM250 390h5v1h-5zM250 391h4v1h-4zM251 392h2v1h-2zM251 384h3v1h-3zM250 385h5v1h-5zM250 386h4v1h-4zM251 387h3v1h-3zM251 379h3v1h-3zM250 380h5v1h-5zM250 381h4v1h-4zM251 382h3v1h-3zM251 374h3v1h-3zM250 375h5v2h-5zM251 377h3v1h-3zM251 369h3v1h-3zM250 370h4v1h-4zM250 371h5v1h-5zM251 372h3v1h-3zM251 364h3v1h-3zM250 365h4v1h-4zM250 366h5v1h-5zM251 367h3v1h-3zM251 359h2v1h-2zM250 360h4v1h-4zM250 361h5v1h-5zM250 362h4v1h-4zM252 363h1v1h-1zM252 354h1v1h-1zM250 355h4v1h-4zM250 356h5v1h-5zM250 357h4v1h-4zM251 358h2v1h-2zM251 350h3v1h-3zM250 351h5v1h-5zM250 352h4v1h-4zM251 353h3v1h-3zM251 345h3v1h-3zM250 346h5v1h-5zM250 347h4v1h-4zM251 348h3v1h-3zM251 340h3v1h-3zM250 341h5v2h-5zM251 343h3v1h-3zM251 335h3v1h-3zM250 336h4v1h-4zM250 337h5v1h-5zM251 338h3v1h-3zM251 330h3v1h-3zM250 331h4v1h-4zM250 332h5v1h-5zM251 333h3v1h-3zM251 325h2v1h-2zM250 326h4v1h-4zM250 327h5v1h-5zM251 328h3v1h-3zM252 329h1v1h-1zM252 320h1v1h-1zM250 321h4v1h-4zM250 322h5v1h-5zM250 323h4v1h-4zM251 324h2v1h-2zM251 316h3v1h-3zM250 317h5v1h-5zM250 318h4v1h-4zM251 319h3v1h-3zM251 311h3v1h-3zM250 312h5v1h-5zM250 313h4v1h-4zM251 314h3v1h-3zM251 306h3v1h-3zM250 307h5v1h-5zM250 308h4v1h-4zM251 309h3v1h-3zM251 301h3v1h-3zM250 302h4v1h-4zM250 303h5v1h-5zM251 304h3v1h-3zM251 296h3v1h-3zM250 297h4v1h-4zM250 298h5v1h-5zM251 299h3v1h-3zM251 291h2v1h-2zM250 292h4v1h-4zM250 293h5v1h-5zM251 294h3v1h-3zM252 295h1v1h-1zM252 286h1v1h-1zM250 287h4v1h-4zM250 288h5v1h-5zM250 289h4v1h-4zM251 290h2v1h-2zM252 281h1v1h-1zM251 282h3v1h-3zM250 283h5v1h-5zM250 284h4v1h-4zM251 285h3v1h-3zM251 277h3v1h-3zM250 278h5v1h-5zM250 279h4v1h-4zM251 280h3v1h-3zM251 272h3v1h-3zM250 273h5v1h-5zM250 274h4v1h-4zM251 275h3v1h-3zM251 267h3v1h-3zM250 268h4v1h-4zM250 269h5v1h-5zM251 270h3v1h-3zM251 262h3v1h-3zM250 263h4v1h-4zM250 264h5v1h-5zM251 265h3v1h-3zM251 257h3v1h-3zM250 258h4v1h-4zM250 259h5v1h-5zM251 260h3v1h-3zM252 261h1v1h-1zM252 252h1v1h-1zM250 253h4v1h-4zM250 254h5v1h-5zM250 255h4v1h-4zM252 256h1v1h-1zM252 247h1v1h-1zM251 248h3v1h-3zM250 249h5v1h-5zM250 250h4v1h-4zM251 251h3v1h-3zM251 243h3v1h-3zM250 244h5v1h-5zM250 245h4v1h-4zM251 246h3v1h-3zM251 238h3v1h-3zM250 239h5v1h-5zM250 240h4v1h-4zM251 241h3v1h-3zM251 233h3v1h-3zM250 234h4v1h-4zM250 235h5v1h-5zM251 236h3v1h-3zM251 228h3v1h-3zM250 229h4v1h-4zM250 230h5v1h-5zM251 231h3v1h-3zM251 223h3v1h-3zM250 224h4v1h-4zM250 225h5v1h-5zM251 226h3v1h-3zM252 227h1v1h-1zM251 218h2v1h-2zM250 219h4v1h-4zM250 220h5v1h-5zM250 221h4v1h-4zM252 222h1v1h-1zM252 213h1v1h-1zM251 214h3v1h-3zM250 215h5v1h-5zM250 216h4v1h-4zM251 217h2v1h-2zM251 209h3v1h-3zM250 210h5v1h-5zM250 211h4v1h-4zM251 212h3v1h-3zM251 204h3v1h-3zM250 205h5v1h-5zM250 206h4v1h-4zM251 207h3v1h-3zM251 199h3v1h-3zM250 200h4v1h-4zM250 201h5v1h-5zM251 202h3v1h-3zM251 194h3v1h-3zM250 195h4v1h-4zM250 196h5v1h-5zM251 197h3v1h-3zM251 189h3v1h-3zM250 190h4v1h-4zM250 191h5v1h-5zM251 192h3v1h-3zM251 184h2v1h-2zM250 185h4v1h-4zM250 186h5v1h-5zM250 187h4v1h-4zM252 188h1v1h-1zM252 179h1v1h-1zM251 180h3v1h-3zM250 181h5v1h-5zM250 182h4v1h-4zM251 183h2v1h-2zM251 175h3v1h-3zM250 176h5v1h-5zM250 177h4v1h-4zM251 178h3v1h-3zM251 170h3v1h-3zM250 171h5v1h-5zM250 172h4v1h-4zM251 173h3v1h-3zM251 165h3v1h-3zM250 166h5v2h-5zM251 168h3v1h-3zM251 160h3v1h-3zM250 161h4v1h-4zM250 162h5v1h-5zM251 163h3v1h-3zM251 155h3v1h-3zM250 156h4v1h-4zM250 157h5v1h-5zM251 158h3v1h-3zM251 150h2v1h-2zM250 151h4v1h-4zM250 152h5v1h-5zM251 153h3v1h-3zM252 154h1v1h-1zM252 145h1v1h-1zM250 146h4v1h-4zM250 147h5v1h-5zM250 148h4v1h-4zM251 149h2v1h-2zM251 141h3v1h-3zM250 142h5v1h-5zM250 143h4v1h-4zM251 144h3v1h-3zM251 136h3v1h-3zM250 137h5v1h-5zM250 138h4v1h-4zM251 139h3v1h-3zM251 131h3v1h-3zM250 132h5v1h-5zM250 133h4v1h-4zM251 134h3v1h-3zM251 126h3v1h-3zM250 127h4v1h-4zM250 128h5v1h-5zM251 129h3v1h-3zM251 121h3v1h-3zM250 122h4v1h-4zM250 123h5v1h-5zM251 124h3v1h-3zM251 116h2v1h-2zM250 117h4v1h-4zM250 118h5v1h-5zM251 119h3v1h-3zM252 120h1v1h-1zM252 111h1v1h-1zM250 112h4v1h-4zM250 113h5v1h-5zM250 114h4v1h-4zM251 115h2v1h-2zM252 106h1v1h-1zM251 107h3v1h-3zM250 108h5v1h-5zM250 109h4v1h-4zM251 110h3v1h-3zM251 102h3v1h-3zM250 103h5v1h-5zM250 104h4v1h-4zM251 105h3v1h-3zM251 97h3v1h-3zM250 98h5v1h-5zM250 99h4v1h-4zM251 100h3v1h-3zM251 92h3v1h-3zM250 93h4v1h-4zM250 94h5v1h-5zM251 95h3v1h-3zM251 87h3v1h-3zM250 88h4v1h-4zM250 89h5v1h-5zM251 90h3v1h-3zM251 82h3v1h-3zM250 83h4v1h-4zM250 84h5v1h-5zM251 85h3v1h-3zM252 86h1v1h-1zM252 77h1v1h-1zM250 78h4v1h-4zM250 79h5v1h-5zM250 80h4v1h-4zM252 81h1v1h-1zM269 422h1v1h-1zM267 423h4v3h-4zM268 426h2v1h-2zM267 418h4v3h-4zM268 421h2v1h-2zM268 413h3v1h-3zM267 414h4v2h-4zM268 416h3v1h-3zM268 408h3v1h-3zM267 409h4v2h-4zM268 411h3v1h-3zM268 403h3v1h-3zM267 404h4v3h-4zM268 398h2v1h-2zM267 399h4v3h-4zM268 393h2v1h-2zM267 394h4v3h-4zM268 397h2v1h-2zM269 388h1v1h-1zM267 389h4v3h-4zM268 392h2v1h-2zM267 384h4v3h-4zM268 387h2v1h-2zM267 379h4v3h-4zM268 382h3v1h-3zM268 374h3v1h-3zM267 375h4v2h-4zM268 377h3v1h-3zM268 369h3v1h-3zM267 370h4v3h-4zM268 364h2v1h-2zM267 365h4v3h-4zM268 359h2v1h-2zM267 360h4v3h-4zM268 363h2v1h-2zM269 354h1v1h-1zM267 355h4v3h-4zM268 358h2v1h-2zM267 350h4v3h-4zM268 353h2v1h-2zM267 345h4v3h-4zM268 348h3v1h-3zM268 340h3v1h-3zM267 341h4v2h-4zM268 343h3v1h-3zM268 335h3v1h-3zM267 336h4v3h-4zM268 330h2v1h-2zM267 331h4v3h-4zM268 325h2v1h-2zM267 326h4v3h-4zM269 329h1v1h-1zM268 320h2v1h-2zM267 321h4v3h-4zM268 324h2v1h-2zM267 316h4v3h-4zM268 319h2v1h-2zM267 311h4v3h-4zM268 314h3v1h-3zM268 306h3v1h-3zM267 307h4v2h-4zM268 309h3v1h-3zM268 301h3v1h-3zM267 302h4v3h-4zM268 296h2v1h-2zM267 297h4v3h-4zM268 291h2v1h-2zM267 292h4v3h-4zM269 295h1v1h-1zM268 286h2v1h-2zM267 287h4v3h-4zM268 290h2v1h-2zM267 282h4v3h-4zM268 285h2v1h-2zM267 277h4v3h-4zM268 280h3v1h-3zM268 272h3v1h-3zM267 273h4v2h-4zM268 275h3v1h-3zM268 267h3v1h-3zM267 268h4v2h-4zM268 270h3v1h-3zM268 262h2v1h-2zM267 263h4v3h-4zM268 257h2v1h-2zM267 258h4v3h-4zM269 261h1v1h-1zM268 252h2v1h-2zM267 253h4v3h-4zM268 256h2v1h-2zM269 247h1v1h-1zM267 248h4v3h-4zM268 251h2v1h-2zM267 243h4v3h-4zM268 246h2v1h-2zM268 238h3v1h-3zM267 239h4v2h-4zM268 241h3v1h-3zM268 233h3v1h-3zM267 234h4v2h-4zM268 236h3v1h-3zM268 228h3v1h-3zM267 229h4v3h-4zM268 223h2v1h-2zM267 224h4v3h-4zM268 218h2v1h-2zM267 219h4v3h-4zM268 222h2v1h-2zM269 213h1v1h-1zM267 214h4v3h-4zM268 217h2v1h-2zM267 209h4v3h-4zM268 212h2v1h-2zM267 204h4v3h-4zM268 207h3v1h-3zM268 199h3v1h-3zM267 200h4v2h-4zM268 202h3v1h-3zM268 194h3v1h-3zM267 195h4v3h-4zM268 189h2v1h-2zM267 190h4v3h-4zM268 184h2v1h-2zM267 185h4v3h-4zM268 188h2v1h-2zM269 179h1v1h-1zM267 180h4v3h-4zM268 183h2v1h-2zM267 175h4v3h-4zM268 178h2v1h-2zM267 170h4v3h-4zM268 173h3v1h-3zM268 165h3v1h-3zM267 166h4v2h-4zM268 168h3v1h-3zM268 160h3v1h-3zM267 161h4v3h-4zM268 155h2v1h-2zM267 156h4v3h-4zM268 150h2v1h-2zM267 151h4v3h-4zM269 154h1v1h-1zM268 145h2v1h-2zM267 146h4v3h-4zM268 149h2v1h-2zM267 141h4v3h-4zM268 144h2v1h-2zM285 116h2v1h-2zM284 117h4v3h-4zM285 120h1v1h-1zM285 111h2v1h-2zM284 112h4v3h-4zM285 115h2v1h-2zM284 107h4v3h-4zM285 110h2v1h-2zM284 102h4v3h-4zM285 105h2v1h-2zM284 97h4v3h-4zM284 100h3v1h-3zM284 92h3v1h-3zM284 93h4v3h-4zM285 87h2v1h-2zM284 88h4v3h-4zM285 82h2v1h-2zM284 83h4v3h-4zM285 77h2v1h-2zM284 78h4v3h-4zM285 81h2v1h-2zM302 422h1v1h-1zM301 423h4v3h-4zM302 426h2v1h-2zM301 418h3v1h-3zM301 419h4v2h-4zM301 421h3v1h-3zM301 413h3v1h-3zM301 414h4v2h-4zM301 416h3v1h-3zM301 408h3v1h-3zM301 409h4v2h-4zM301 411h3v1h-3zM301 403h3v1h-3zM301 404h4v2h-4zM301 406h3v1h-3zM302 398h2v1h-2zM301 399h4v3h-4zM302 393h2v1h-2zM301 394h4v3h-4zM302 397h1v1h-1zM302 388h1v1h-1zM301 389h4v3h-4zM302 392h2v1h-2zM301 384h3v1h-3zM301 385h4v2h-4zM301 387h3v1h-3zM301 379h3v1h-3zM301 380h4v2h-4zM301 382h3v1h-3zM301 374h3v1h-3zM301 375h4v2h-4zM301 377h3v1h-3zM301 369h3v1h-3zM301 370h4v2h-4zM301 372h3v1h-3zM301 364h3v1h-3zM301 365h4v3h-4zM302 359h2v1h-2zM301 360h4v3h-4zM302 363h1v1h-1zM302 354h1v1h-1zM301 355h4v3h-4zM302 358h2v1h-2zM301 350h4v3h-4zM301 353h3v1h-3zM301 345h3v1h-3zM301 346h4v2h-4zM301 348h3v1h-3zM301 340h3v1h-3zM301 341h4v2h-4zM301 343h3v1h-3zM301 335h3v1h-3zM301 336h4v2h-4zM301 338h3v1h-3zM301 330h3v1h-3zM301 331h4v3h-4zM302 325h2v1h-2zM301 326h4v3h-4zM302 329h1v1h-1zM302 320h1v1h-1zM301 321h4v3h-4zM302 324h2v1h-2zM301 316h4v3h-4zM302 319h2v1h-2zM301 311h3v1h-3zM301 312h4v2h-4zM301 314h3v1h-3zM301 306h3v1h-3zM301 307h4v2h-4zM301 309h3v1h-3zM301 301h3v1h-3zM301 302h4v2h-4zM301 304h3v1h-3zM301 296h3v1h-3zM301 297h4v2h-4zM301 299h3v1h-3zM302 291h2v1h-2zM301 292h4v3h-4zM302 295h1v1h-1zM302 286h2v1h-2zM301 287h4v3h-4zM302 290h2v1h-2zM302 281h1v1h-1zM301 282h4v3h-4zM302 285h2v1h-2zM301 277h3v1h-3zM301 278h4v2h-4zM301 280h3v1h-3zM301 272h3v1h-3zM301 273h4v2h-4zM301 275h3v1h-3zM301 267h3v1h-3zM301 268h4v2h-4zM301 270h3v1h-3zM301 262h3v1h-3zM301 263h4v2h-4zM301 265h3v1h-3zM302 257h2v1h-2zM301 258h4v3h-4zM302 261h1v1h-1zM302 252h2v1h-2zM301 253h4v3h-4zM302 256h2v1h-2zM302 247h1v1h-1zM301 248h4v3h-4zM302 251h2v1h-2zM301 243h3v1h-3zM301 244h4v2h-4zM301 246h3v1h-3zM301 238h3v1h-3zM301 239h4v2h-4zM301 241h3v1h-3zM301 233h3v1h-3zM301 234h4v2h-4zM301 236h3v1h-3zM301 228h3v1h-3zM301 229h4v2h-4zM301 231h3v1h-3zM302 223h2v1h-2zM301 224h4v3h-4zM302 218h2v1h-2zM301 219h4v3h-4zM302 222h1v1h-1zM302 213h1v1h-1zM301 214h4v3h-4zM302 217h2v1h-2zM301 209h3v1h-3zM301 210h4v2h-4zM301 212h3v1h-3zM301 204h3v1h-3zM301 205h4v2h-4zM301 207h3v1h-3zM301 199h3v1h-3zM301 200h4v2h-4zM301 202h3v1h-3zM301 194h3v1h-3zM301 195h4v2h-4zM301 197h3v1h-3zM301 189h3v1h-3zM301 190h4v3h-4zM302 184h2v1h-2zM301 185h4v3h-4zM302 188h1v1h-1zM302 179h1v1h-1zM301 180h4v3h-4zM302 183h2v1h-2zM301 175h4v3h-4zM301 178h3v1h-3zM301 170h3v1h-3zM301 171h4v2h-4zM301 173h3v1h-3zM301 165h3v1h-3zM301 166h4v2h-4zM301 168h3v1h-3zM301 160h3v1h-3zM301 161h4v2h-4zM301 163h3v1h-3zM301 155h3v1h-3zM301 156h4v3h-4zM302 150h2v1h-2zM301 151h4v3h-4zM302 154h1v1h-1zM302 145h1v1h-1zM301 146h4v3h-4zM302 149h2v1h-2zM301 141h4v3h-4zM302 144h2v1h-2zM301 136h3v1h-3zM301 137h4v2h-4zM301 139h3v1h-3zM301 131h3v1h-3zM301 132h4v2h-4zM301 134h3v1h-3zM301 126h3v1h-3zM301 127h4v2h-4zM301 129h3v1h-3zM301 121h3v1h-3zM301 122h4v2h-4zM301 124h3v1h-3zM302 116h2v1h-2zM301 117h4v3h-4zM302 120h1v1h-1zM302 111h2v1h-2zM301 112h4v3h-4zM302 115h2v1h-2zM301 107h4v3h-4zM302 110h2v1h-2zM301 102h3v1h-3zM301 103h4v2h-4zM301 105h3v1h-3zM301 97h3v1h-3zM301 98h4v2h-4zM301 100h3v1h-3zM301 92h3v1h-3zM301 93h4v2h-4zM301 95h3v1h-3zM301 87h3v1h-3zM301 88h4v2h-4zM301 90h3v1h-3zM302 82h2v1h-2zM301 83h4v3h-4zM302 86h1v1h-1zM302 77h2v1h-2zM301 78h4v3h-4zM302 81h2v1h-2zM319 422h1v1h-1zM318 423h3v1h-3zM317 424h5v1h-5zM317 425h4v1h-4zM318 426h3v1h-3zM318 418h3v1h-3zM317 419h5v2h-5zM318 421h3v1h-3zM318 413h3v1h-3zM317 414h5v2h-5zM318 416h3v1h-3zM318 408h3v1h-3zM317 409h5v2h-5zM318 411h3v1h-3zM318 403h3v1h-3zM317 404h5v2h-5zM318 406h3v1h-3zM318 398h3v1h-3zM317 399h4v1h-4zM317 400h5v1h-5zM318 401h3v1h-3zM319 393h1v1h-1zM318 394h3v1h-3zM317 395h5v1h-5zM318 396h3v1h-3zM319 397h1v1h-1zM319 388h1v1h-1zM318 389h3v1h-3zM317 390h5v1h-5zM318 391h3v2h-3zM318 384h3v1h-3zM317 385h5v2h-5zM318 387h3v1h-3zM318 379h3v1h-3zM317 380h5v2h-5zM318 382h3v1h-3zM318 374h3v1h-3zM317 375h5v2h-5zM318 377h3v1h-3zM318 369h3v1h-3zM317 370h5v2h-5zM318 372h3v1h-3zM318 364h3v1h-3zM317 365h5v2h-5zM318 367h3v1h-3zM318 359h2v1h-2zM318 360h3v1h-3zM317 361h5v1h-5zM318 362h3v1h-3zM319 363h1v1h-1zM319 354h1v1h-1zM318 355h3v1h-3zM317 356h5v1h-5zM318 357h3v1h-3zM318 358h2v1h-2zM318 350h3v1h-3zM317 351h5v2h-5zM318 353h3v1h-3zM318 345h3v1h-3zM317 346h5v2h-5zM318 348h3v1h-3zM318 340h3v1h-3zM317 341h5v2h-5zM318 343h3v1h-3zM318 335h3v1h-3zM317 336h5v2h-5zM318 338h3v1h-3zM318 330h3v1h-3zM317 331h5v2h-5zM318 333h3v1h-3zM318 325h3v2h-3zM317 327h5v1h-5zM318 328h3v1h-3zM319 329h1v1h-1zM319 320h1v1h-1zM318 321h3v1h-3zM317 322h5v1h-5zM318 323h3v1h-3zM319 324h1v1h-1zM318 316h3v1h-3zM317 317h5v2h-5zM318 319h3v1h-3zM318 311h3v1h-3zM317 312h5v2h-5zM318 314h3v1h-3zM318 306h3v1h-3zM317 307h5v2h-5zM318 309h3v1h-3zM318 301h3v1h-3zM317 302h5v2h-5zM318 304h3v1h-3zM318 296h3v1h-3zM317 297h5v2h-5zM318 299h3v1h-3zM318 291h3v1h-3zM317 292h4v1h-4zM317 293h5v1h-5zM318 294h3v1h-3zM319 295h1v1h-1zM319 286h1v1h-1zM318 287h3v1h-3zM317 288h5v1h-5zM318 289h3v1h-3zM319 290h1v1h-1zM319 281h1v1h-1zM318 282h3v1h-3zM317 283h5v1h-5zM317 284h4v1h-4zM318 285h3v1h-3zM318 277h3v1h-3zM317 278h5v2h-5zM318 280h3v1h-3zM318 272h3v1h-3zM317 273h5v2h-5zM318 275h3v1h-3zM318 267h3v1h-3zM317 268h5v2h-5zM318 270h3v1h-3zM318 262h3v1h-3zM317 263h5v2h-5zM318 265h3v1h-3zM318 257h3v1h-3zM317 258h4v1h-4zM317 259h5v1h-5zM318 260h3v1h-3zM319 261h1v1h-1zM319 252h1v1h-1zM318 253h3v1h-3zM317 254h5v1h-5zM318 255h3v1h-3zM319 256h1v1h-1zM319 247h1v1h-1zM318 248h3v1h-3zM317 249h5v1h-5zM317 250h4v1h-4zM318 251h3v1h-3zM318 243h3v1h-3zM317 244h5v2h-5zM318 246h3v1h-3zM318 238h3v1h-3zM317 239h5v2h-5zM318 241h3v1h-3zM318 233h3v1h-3zM317 234h5v2h-5zM318 236h3v1h-3zM318 228h3v1h-3zM317 229h5v2h-5zM318 231h3v1h-3zM318 223h3v1h-3zM317 224h4v1h-4zM317 225h5v1h-5zM318 226h3v1h-3zM319 227h1v1h-1zM319 218h1v1h-1zM318 219h3v1h-3zM317 220h5v1h-5zM318 221h3v1h-3zM319 222h1v1h-1zM319 213h1v1h-1zM318 214h3v1h-3zM317 215h5v1h-5zM318 216h3v2h-3zM318 209h3v1h-3zM317 210h5v2h-5zM318 212h3v1h-3zM318 204h3v1h-3zM317 205h5v2h-5zM318 207h3v1h-3zM318 199h3v1h-3zM317 200h5v2h-5zM318 202h3v1h-3zM318 194h3v1h-3zM317 195h5v2h-5zM318 197h3v1h-3zM318 189h3v1h-3zM317 190h5v2h-5zM318 192h3v1h-3zM319 184h1v1h-1zM318 185h3v1h-3zM317 186h5v1h-5zM318 187h3v1h-3zM319 188h1v1h-1zM319 179h1v1h-1zM318 180h3v1h-3zM317 181h5v1h-5zM318 182h3v2h-3zM318 175h3v1h-3zM317 176h5v2h-5zM318 178h3v1h-3zM318 170h3v1h-3zM317 171h5v2h-5zM318 173h3v1h-3zM318 165h3v1h-3zM317 166h5v2h-5zM318 168h3v1h-3zM318 160h3v1h-3zM317 161h5v2h-5zM318 163h3v1h-3zM318 155h3v1h-3zM317 156h5v2h-5zM318 158h3v1h-3zM318 150h3v2h-3zM317 152h5v1h-5zM318 153h3v1h-3zM319 154h1v1h-1zM319 145h1v1h-1zM318 146h3v1h-3zM317 147h5v1h-5zM318 148h3v1h-3zM319 149h1v1h-1zM318 141h3v1h-3zM317 142h5v2h-5zM318 144h3v1h-3zM318 136h3v1h-3zM317 137h5v2h-5zM318 139h3v1h-3zM318 131h3v1h-3zM317 132h5v2h-5zM318 134h3v1h-3zM318 126h3v1h-3zM317 127h5v2h-5zM318 129h3v1h-3zM318 121h3v1h-3zM317 122h5v2h-5zM318 124h3v1h-3zM318 116h3v1h-3zM317 117h4v1h-4zM317 118h5v1h-5zM318 119h3v1h-3zM319 120h1v1h-1zM319 111h1v1h-1zM318 112h3v1h-3zM317 113h5v1h-5zM318 114h3v1h-3zM319 115h1v1h-1zM319 106h1v1h-1zM318 107h3v1h-3zM317 108h5v1h-5zM317 109h4v1h-4zM318 110h3v1h-3zM318 102h3v1h-3zM317 103h5v2h-5zM318 105h3v1h-3zM318 97h3v1h-3zM317 98h5v2h-5zM318 100h3v1h-3zM318 92h3v1h-3zM317 93h5v2h-5zM318 95h3v1h-3zM318 87h3v1h-3zM317 88h5v2h-5zM318 90h3v1h-3zM318 82h3v1h-3zM317 83h4v1h-4zM317 84h5v1h-5zM318 85h3v1h-3zM319 86h1v1h-1zM319 77h1v1h-1zM318 78h3v1h-3zM317 79h5v1h-5zM318 80h3v1h-3zM319 81h1v1h-1zM336 422h1v1h-1zM334 423h4v3h-4zM335 426h2v1h-2zM334 418h4v3h-4zM335 421h3v1h-3zM335 413h3v1h-3zM334 414h4v2h-4zM335 416h3v1h-3zM335 408h3v1h-3zM334 409h4v2h-4zM335 411h3v1h-3zM335 403h3v1h-3zM334 404h4v2h-4zM335 406h3v1h-3zM335 398h2v1h-2zM334 399h4v3h-4zM335 393h2v1h-2zM334 394h4v3h-4zM335 397h2v1h-2zM336 388h1v1h-1zM334 389h4v3h-4zM335 392h2v1h-2zM334 384h4v3h-4zM335 387h3v1h-3zM335 379h3v1h-3zM334 380h4v2h-4zM335 382h3v1h-3zM335 374h3v1h-3zM334 375h4v2h-4zM335 377h3v1h-3zM335 369h3v1h-3zM334 370h4v2h-4zM335 372h3v1h-3zM335 364h2v1h-2zM334 365h4v3h-4zM335 359h2v1h-2zM334 360h4v3h-4zM336 363h1v1h-1zM336 354h1v1h-1zM334 355h4v3h-4zM335 358h2v1h-2zM334 350h4v3h-4zM335 353h3v1h-3zM335 345h3v1h-3zM334 346h4v2h-4zM335 348h3v1h-3zM335 340h3v1h-3zM334 341h4v2h-4zM335 343h3v1h-3zM335 335h3v1h-3zM334 336h4v2h-4zM335 338h3v1h-3zM335 330h3v1h-3zM334 331h4v3h-4zM335 325h2v1h-2zM334 326h4v3h-4zM336 329h1v1h-1zM336 320h1v1h-1zM334 321h4v3h-4zM335 324h2v1h-2zM334 316h4v3h-4zM335 319h2v1h-2zM335 311h3v1h-3zM334 312h4v2h-4zM335 314h3v1h-3zM335 306h3v1h-3zM334 307h4v2h-4zM335 309h3v1h-3zM335 301h3v1h-3zM334 302h4v2h-4zM335 304h3v1h-3zM335 296h3v1h-3zM334 297h4v3h-4zM335 291h2v1h-2zM334 292h4v3h-4zM336 295h1v1h-1zM335 286h2v1h-2zM334 287h4v3h-4zM335 290h2v1h-2zM336 281h1v1h-1zM334 282h4v3h-4zM335 285h2v1h-2zM335 277h3v1h-3zM334 278h4v2h-4zM335 280h3v1h-3zM335 272h3v1h-3zM334 273h4v2h-4zM335 275h3v1h-3zM335 267h3v1h-3zM334 268h4v2h-4zM335 270h3v1h-3zM335 262h3v1h-3zM334 263h4v2h-4zM335 265h3v1h-3zM335 257h2v1h-2zM334 258h4v3h-4zM336 261h1v1h-1zM335 252h2v1h-2zM334 253h4v3h-4zM335 256h2v1h-2zM336 247h1v1h-1zM334 248h4v3h-4zM335 251h2v1h-2zM334 243h4v3h-4zM335 246h3v1h-3zM335 238h3v1h-3zM334 239h4v2h-4zM335 241h3v1h-3zM335 233h3v1h-3zM334 234h4v2h-4zM335 236h3v1h-3zM335 228h3v1h-3zM334 229h4v2h-4zM335 231h3v1h-3zM335 223h2v1h-2zM334 224h4v3h-4zM335 218h2v1h-2zM334 219h4v3h-4zM335 222h2v1h-2zM336 213h1v1h-1zM334 214h4v3h-4zM335 217h2v1h-2zM334 209h4v3h-4zM335 212h3v1h-3zM335 204h3v1h-3zM334 205h4v2h-4zM335 207h3v1h-3zM335 199h3v1h-3zM334 200h4v2h-4zM335 202h3v1h-3zM351 199h4v4h-4zM352 194h2v1h-2zM351 195h4v3h-4zM352 189h2v1h-2zM351 190h4v3h-4zM352 184h2v1h-2zM351 185h4v3h-4zM352 188h2v1h-2zM352 179h2v1h-2zM351 180h4v3h-4zM352 183h2v1h-2zM351 175h4v3h-4zM352 178h2v1h-2zM351 170h4v3h-4zM352 173h2v1h-2zM351 165h4v4h-4zM352 160h2v1h-2zM351 161h4v3h-4zM352 155h2v1h-2zM351 156h4v3h-4zM352 150h2v1h-2zM351 151h4v3h-4zM352 154h2v1h-2zM352 145h2v1h-2zM351 146h4v3h-4zM352 149h2v1h-2zM351 141h4v3h-4zM352 144h2v1h-2zM351 136h4v3h-4zM352 139h2v1h-2zM351 131h4v4h-4zM352 126h2v1h-2zM351 127h4v3h-4zM352 121h2v1h-2zM351 122h4v3h-4zM352 116h2v1h-2zM351 117h4v3h-4zM353 120h1v1h-1zM352 111h2v1h-2zM351 112h4v3h-4zM352 115h2v1h-2zM351 107h4v3h-4zM352 110h2v1h-2zM351 102h4v3h-4zM352 105h2v1h-2zM351 97h4v3h-4zM352 100h3v1h-3zM352 92h3v1h-3zM351 93h4v3h-4zM352 87h2v1h-2zM351 88h4v3h-4zM352 82h2v1h-2zM351 83h4v3h-4zM352 77h2v1h-2zM351 78h4v3h-4zM352 81h2v1h-2zM369 422h1v1h-1zM368 423h4v3h-4zM369 426h2v1h-2zM368 418h4v3h-4zM368 421h3v1h-3zM368 413h3v1h-3zM368 414h4v2h-4zM368 416h3v1h-3zM368 408h3v1h-3zM368 409h4v2h-4zM368 411h3v1h-3zM368 403h3v1h-3zM368 404h4v3h-4zM369 398h2v1h-2zM368 399h4v3h-4zM369 393h2v1h-2zM368 394h4v3h-4zM369 397h2v1h-2zM369 388h1v1h-1zM368 389h4v3h-4zM369 392h2v1h-2zM368 384h4v3h-4zM369 387h2v1h-2zM368 379h3v1h-3zM368 380h4v2h-4zM368 382h3v1h-3zM368 374h3v1h-3zM368 375h4v2h-4zM368 377h3v1h-3zM368 369h3v1h-3zM368 370h4v3h-4zM369 364h2v1h-2zM368 365h4v3h-4zM369 359h2v1h-2zM368 360h4v3h-4zM369 363h1v1h-1zM369 354h1v1h-1zM368 355h4v3h-4zM369 358h2v1h-2zM368 350h4v3h-4zM369 353h2v1h-2zM368 345h4v3h-4zM368 348h3v1h-3zM368 340h3v1h-3zM368 341h4v2h-4zM368 343h3v1h-3zM368 335h3v1h-3zM368 336h4v2h-4zM368 338h3v1h-3zM369 330h2v1h-2zM368 331h4v3h-4zM369 325h2v1h-2zM368 326h4v3h-4zM369 329h1v1h-1zM369 320h2v1h-2zM368 321h4v3h-4zM369 324h2v1h-2zM368 316h4v3h-4zM369 319h2v1h-2zM368 311h4v3h-4zM368 314h3v1h-3zM368 306h3v1h-3zM368 307h4v2h-4zM368 309h3v1h-3zM368 301h3v1h-3zM368 302h4v2h-4zM368 304h3v1h-3zM369 296h2v1h-2zM368 297h4v3h-4zM369 291h2v1h-2zM368 292h4v3h-4zM369 295h1v1h-1zM369 286h2v1h-2zM368 287h4v3h-4zM369 290h2v1h-2zM368 282h4v3h-4zM369 285h2v1h-2zM368 277h4v3h-4zM368 280h3v1h-3zM368 272h3v1h-3zM368 273h4v2h-4zM368 275h3v1h-3zM368 267h3v1h-3zM368 268h4v2h-4zM368 270h3v1h-3zM368 262h3v1h-3zM368 263h4v3h-4zM369 257h2v1h-2zM368 258h4v3h-4zM369 261h1v1h-1zM369 252h2v1h-2zM368 253h4v3h-4zM369 256h2v1h-2zM369 247h1v1h-1zM368 248h4v3h-4zM369 251h2v1h-2zM368 243h4v3h-4zM368 246h3v1h-3zM368 238h3v1h-3zM368 239h4v2h-4zM368 241h3v1h-3zM368 233h3v1h-3zM368 234h4v2h-4zM368 236h3v1h-3zM368 228h3v1h-3zM368 229h4v3h-4zM369 223h2v1h-2zM368 224h4v3h-4zM369 218h2v1h-2zM368 219h4v3h-4zM369 222h2v1h-2zM369 213h1v1h-1zM368 214h4v3h-4zM369 217h2v1h-2zM368 209h4v3h-4zM369 212h2v1h-2zM368 204h3v1h-3zM368 205h4v2h-4zM368 207h3v1h-3zM368 199h3v1h-3zM368 200h4v2h-4zM368 202h3v1h-3zM368 194h3v1h-3zM368 195h4v3h-4zM369 189h2v1h-2zM368 190h4v3h-4zM369 184h2v1h-2zM368 185h4v3h-4zM369 188h2v1h-2zM369 179h1v1h-1zM368 180h4v3h-4zM369 183h2v1h-2zM368 175h4v3h-4zM369 178h2v1h-2zM368 170h4v3h-4zM368 173h3v1h-3zM368 165h3v1h-3zM368 166h4v2h-4zM368 168h3v1h-3zM368 160h3v1h-3zM368 161h4v3h-4zM369 155h2v1h-2zM368 156h4v3h-4zM369 150h2v1h-2zM368 151h4v3h-4zM369 154h1v1h-1zM369 145h2v1h-2zM368 146h4v3h-4zM369 149h2v1h-2zM368 141h4v3h-4zM369 144h2v1h-2zM368 136h4v3h-4zM368 139h3v1h-3zM368 131h3v1h-3zM368 132h4v2h-4zM368 134h3v1h-3zM368 126h3v1h-3zM368 127h4v2h-4zM368 129h3v1h-3zM369 121h2v1h-2zM368 122h4v3h-4zM369 116h2v1h-2zM368 117h4v3h-4zM369 120h1v1h-1zM369 111h2v1h-2zM368 112h4v3h-4zM369 115h2v1h-2zM368 107h4v3h-4zM369 110h2v1h-2zM368 102h4v3h-4zM368 105h3v1h-3zM368 97h3v1h-3zM368 98h4v2h-4zM368 100h3v1h-3zM368 92h3v1h-3zM368 93h4v2h-4zM368 95h3v1h-3zM368 87h3v1h-3zM368 88h4v3h-4zM369 82h2v1h-2zM368 83h4v3h-4zM369 86h1v1h-1zM369 77h2v1h-2zM368 78h4v3h-4zM369 81h2v1h-2zM386 422h1v1h-1zM385 423h3v1h-3zM384 424h5v1h-5zM385 425h4v1h-4zM385 426h3v1h-3zM385 418h3v1h-3zM384 419h5v1h-5zM385 420h4v1h-4zM385 421h3v1h-3zM385 413h3v1h-3zM384 414h5v2h-5zM385 416h3v1h-3zM385 408h3v1h-3zM384 409h5v2h-5zM385 411h3v1h-3zM385 403h3v1h-3zM385 404h4v1h-4zM384 405h5v1h-5zM385 406h3v1h-3zM385 398h3v1h-3zM385 399h4v1h-4zM384 400h5v1h-5zM385 401h3v1h-3zM386 393h2v1h-2zM385 394h4v1h-4zM384 395h5v1h-5zM385 396h3v1h-3zM386 397h1v1h-1zM386 388h1v1h-1zM385 389h3v1h-3zM384 390h5v1h-5zM385 391h4v1h-4zM386 392h2v1h-2zM385 384h3v1h-3zM384 385h5v1h-5zM385 386h4v1h-4zM385 387h3v1h-3zM385 379h3v1h-3zM384 380h5v2h-5zM385 382h3v1h-3zM385 374h3v1h-3zM384 375h5v2h-5zM385 377h3v1h-3zM385 369h3v1h-3zM385 370h4v1h-4zM384 371h5v1h-5zM385 372h3v1h-3zM385 364h3v1h-3zM385 365h4v1h-4zM384 366h5v1h-5zM385 367h3v1h-3zM386 359h2v1h-2zM385 360h4v1h-4zM384 361h5v1h-5zM385 362h3v1h-3zM386 363h1v1h-1zM386 354h1v1h-1zM385 355h3v1h-3zM384 356h5v1h-5zM385 357h4v1h-4zM386 358h2v1h-2zM385 350h3v1h-3zM384 351h5v1h-5zM385 352h4v1h-4zM385 353h3v1h-3zM385 345h3v1h-3zM384 346h5v1h-5zM385 347h4v1h-4zM385 348h3v1h-3zM385 340h3v1h-3zM384 341h5v2h-5zM385 343h3v1h-3zM385 335h3v1h-3zM384 336h5v2h-5zM385 338h3v1h-3zM385 330h3v1h-3zM385 331h4v1h-4zM384 332h5v1h-5zM385 333h3v1h-3zM386 325h2v1h-2zM385 326h4v1h-4zM384 327h5v1h-5zM385 328h3v1h-3zM386 329h1v1h-1zM386 320h1v1h-1zM385 321h3v1h-3zM384 322h5v1h-5zM385 323h4v1h-4zM386 324h2v1h-2zM385 316h3v1h-3zM384 317h5v1h-5zM385 318h4v1h-4zM385 319h3v1h-3zM385 311h3v1h-3zM384 312h5v1h-5zM385 313h4v1h-4zM385 314h3v1h-3zM385 306h3v1h-3zM384 307h5v2h-5zM385 309h3v1h-3zM385 301h3v1h-3zM384 302h5v2h-5zM385 304h3v1h-3zM385 296h3v1h-3zM385 297h4v1h-4zM384 298h5v1h-5zM385 299h3v1h-3zM385 291h3v1h-3zM385 292h4v1h-4zM384 293h5v1h-5zM385 294h3v1h-3zM386 295h1v1h-1zM386 286h1v1h-1zM385 287h4v1h-4zM384 288h5v1h-5zM385 289h4v1h-4zM386 290h1v1h-1zM386 281h1v1h-1zM385 282h3v1h-3zM384 283h5v1h-5zM385 284h4v1h-4zM385 285h3v1h-3zM385 277h3v1h-3zM384 278h5v1h-5zM385 279h4v1h-4zM385 280h3v1h-3zM385 272h3v1h-3zM384 273h5v2h-5zM385 275h3v1h-3zM385 267h3v1h-3zM384 268h5v2h-5zM385 270h3v1h-3zM385 262h3v1h-3zM385 263h4v1h-4zM384 264h5v1h-5zM385 265h3v1h-3zM385 257h3v1h-3zM385 258h4v1h-4zM384 259h5v1h-5zM385 260h3v1h-3zM386 261h1v1h-1zM386 252h1v1h-1zM385 253h4v1h-4zM384 254h5v1h-5zM385 255h4v1h-4zM386 256h1v1h-1zM386 247h1v1h-1zM385 248h3v1h-3zM384 249h5v1h-5zM385 250h4v1h-4zM385 251h3v1h-3zM385 243h3v1h-3zM384 244h5v1h-5zM385 245h4v1h-4zM385 246h3v1h-3zM385 238h3v1h-3zM384 239h5v2h-5zM385 241h3v1h-3zM385 233h3v1h-3zM384 234h5v2h-5zM385 236h3v1h-3zM385 228h3v1h-3zM385 229h4v1h-4zM384 230h5v1h-5zM385 231h3v1h-3zM385 223h3v1h-3zM385 224h4v1h-4zM384 225h5v1h-5zM385 226h3v1h-3zM386 227h1v1h-1zM386 218h2v1h-2zM385 219h4v1h-4zM384 220h5v1h-5zM385 221h3v1h-3zM386 222h1v1h-1zM386 213h1v1h-1zM385 214h3v1h-3zM384 215h5v1h-5zM385 216h4v1h-4zM386 217h2v1h-2zM385 209h3v1h-3zM384 210h5v1h-5zM385 211h4v1h-4zM385 212h3v1h-3zM385 204h3v1h-3zM384 205h5v2h-5zM385 207h3v1h-3zM385 199h3v1h-3zM384 200h5v2h-5zM385 202h3v1h-3zM385 194h3v1h-3zM385 195h4v1h-4zM384 196h5v1h-5zM385 197h3v1h-3zM385 189h3v1h-3zM385 190h4v1h-4zM384 191h5v1h-5zM385 192h3v1h-3zM386 184h2v1h-2zM385 185h4v1h-4zM384 186h5v1h-5zM385 187h3v1h-3zM386 188h1v1h-1zM386 179h1v1h-1zM385 180h3v1h-3zM384 181h5v1h-5zM385 182h4v1h-4zM386 183h2v1h-2zM385 175h3v1h-3zM384 176h5v1h-5zM385 177h4v1h-4zM385 178h3v1h-3zM385 170h3v1h-3zM384 171h5v1h-5zM385 172h4v1h-4zM385 173h3v1h-3zM385 165h3v1h-3zM384 166h5v2h-5zM385 168h3v1h-3zM385 160h3v1h-3zM385 161h4v1h-4zM384 162h5v1h-5zM385 163h3v1h-3zM385 155h3v1h-3zM385 156h4v1h-4zM384 157h5v1h-5zM385 158h3v1h-3zM386 150h2v1h-2zM385 151h4v1h-4zM384 152h5v1h-5zM385 153h3v1h-3zM386 154h1v1h-1zM386 145h1v1h-1zM385 146h3v1h-3zM384 147h5v1h-5zM385 148h4v1h-4zM386 149h2v1h-2zM385 141h3v1h-3zM384 142h5v1h-5zM385 143h4v1h-4zM385 144h3v1h-3zM385 136h3v1h-3zM384 137h5v1h-5zM385 138h4v1h-4zM385 139h3v1h-3zM385 131h3v1h-3zM384 132h5v2h-5zM385 134h3v1h-3zM385 126h3v1h-3zM384 127h5v2h-5zM385 129h3v1h-3zM385 121h3v1h-3zM385 122h4v1h-4zM384 123h5v1h-5zM385 124h3v1h-3zM385 116h3v1h-3zM385 117h4v1h-4zM384 118h5v1h-5zM385 119h3v1h-3zM386 120h1v1h-1zM386 111h1v1h-1zM385 112h3v1h-3zM384 113h5v1h-5zM385 114h4v1h-4zM386 115h1v1h-1zM386 106h1v1h-1zM385 107h3v1h-3zM384 108h5v1h-5zM385 109h4v1h-4zM385 110h3v1h-3zM385 102h3v1h-3zM384 103h5v1h-5zM385 104h4v1h-4zM385 105h3v1h-3zM385 97h3v1h-3zM384 98h5v2h-5zM385 100h3v1h-3zM385 92h3v1h-3zM384 93h5v2h-5zM385 95h3v1h-3zM385 87h3v1h-3zM385 88h4v1h-4zM384 89h5v1h-5zM385 90h3v1h-3zM385 82h3v1h-3zM385 83h4v1h-4zM384 84h5v1h-5zM385 85h3v1h-3zM386 86h1v1h-1zM386 77h1v1h-1zM385 78h4v1h-4zM384 79h5v1h-5zM385 80h4v1h-4zM386 81h1v1h-1zM403 422h1v1h-1zM401 423h4v1h-4zM401 424h5v1h-5zM401 425h4v1h-4zM402 426h2v1h-2zM402 418h3v1h-3zM401 419h5v1h-5zM401 420h4v1h-4zM402 421h3v1h-3zM402 413h3v1h-3zM401 414h4v2h-4zM402 416h3v1h-3zM402 408h3v1h-3zM401 409h4v2h-4zM402 411h3v1h-3zM402 403h3v1h-3zM401 404h4v1h-4zM401 405h5v1h-5zM402 406h3v1h-3zM402 398h3v1h-3zM401 399h4v1h-4zM401 400h5v1h-5zM402 401h3v1h-3zM402 393h2v1h-2zM401 394h4v1h-4zM401 395h5v1h-5zM401 396h4v1h-4zM403 397h1v1h-1zM403 388h1v1h-1zM401 389h4v1h-4zM401 390h5v1h-5zM401 391h4v1h-4zM402 392h2v1h-2zM402 384h3v1h-3zM401 385h5v1h-5zM401 386h4v1h-4zM402 387h3v1h-3zM402 379h3v1h-3zM401 380h4v2h-4zM402 382h3v1h-3zM402 374h3v1h-3zM401 375h4v2h-4zM402 377h3v1h-3zM402 369h3v1h-3zM401 370h4v1h-4zM401 371h5v1h-5zM402 372h3v1h-3zM402 364h3v1h-3zM401 365h4v1h-4zM401 366h5v1h-5zM402 367h3v1h-3zM402 359h2v1h-2zM401 360h4v1h-4zM401 361h5v1h-5zM401 362h4v1h-4zM403 363h1v1h-1zM403 354h1v1h-1zM401 355h4v1h-4zM401 356h5v1h-5zM401 357h4v1h-4zM402 358h2v1h-2zM402 350h3v1h-3zM401 351h5v1h-5zM401 352h4v1h-4zM402 353h3v1h-3zM402 345h3v1h-3zM401 346h5v1h-5zM401 347h4v1h-4zM402 348h3v1h-3zM402 340h3v1h-3zM401 341h4v2h-4zM402 343h3v1h-3zM402 335h3v1h-3zM401 336h4v2h-4zM402 338h3v1h-3zM402 330h3v1h-3zM401 331h4v1h-4zM401 332h5v1h-5zM402 333h3v1h-3zM402 325h2v1h-2zM401 326h4v1h-4zM401 327h5v1h-5zM401 328h4v1h-4zM403 329h1v1h-1zM403 320h1v1h-1zM401 321h4v1h-4zM401 322h5v1h-5zM401 323h4v1h-4zM402 324h2v1h-2zM402 316h3v1h-3zM401 317h5v1h-5zM401 318h4v1h-4zM402 319h3v1h-3zM402 311h3v1h-3zM401 312h5v1h-5zM401 313h4v1h-4zM402 314h3v1h-3zM402 306h3v1h-3zM401 307h4v2h-4zM402 309h3v1h-3zM402 301h3v1h-3zM401 302h4v2h-4zM402 304h3v1h-3zM402 296h3v1h-3zM401 297h4v1h-4zM401 298h5v1h-5zM402 299h3v1h-3zM402 291h2v1h-2zM401 292h4v1h-4zM401 293h5v1h-5zM401 294h4v1h-4zM403 295h1v1h-1zM403 286h1v1h-1zM401 287h4v1h-4zM401 288h5v1h-5zM401 289h4v1h-4zM402 290h2v1h-2zM403 281h1v1h-1zM402 282h3v1h-3zM401 283h5v1h-5zM401 284h4v1h-4zM402 285h3v1h-3zM402 277h3v1h-3zM401 278h5v1h-5zM401 279h4v1h-4zM402 280h3v1h-3zM402 272h3v1h-3zM401 273h4v2h-4zM402 275h3v1h-3zM402 267h3v1h-3zM401 268h4v2h-4zM402 270h3v1h-3zM402 262h3v1h-3zM401 263h4v1h-4zM401 264h5v1h-5zM402 265h3v1h-3zM418 272h4v3h-4zM419 275h3v1h-3zM419 267h3v1h-3zM418 268h4v3h-4zM419 262h2v1h-2zM418 263h4v3h-4zM419 257h2v1h-2zM418 258h4v3h-4zM419 252h2v1h-2zM418 253h4v3h-4zM419 256h2v1h-2zM420 247h1v1h-1zM418 248h4v3h-4zM419 251h2v1h-2zM418 243h4v3h-4zM419 246h2v1h-2zM418 238h4v3h-4zM419 241h3v1h-3zM419 233h3v1h-3zM418 234h4v2h-4zM419 236h3v1h-3zM419 228h2v1h-2zM418 229h4v3h-4zM419 223h2v1h-2zM418 224h4v3h-4zM419 218h2v1h-2zM418 219h4v3h-4zM419 222h2v1h-2zM420 213h1v1h-1zM418 214h4v3h-4zM419 217h2v1h-2zM418 209h4v3h-4zM419 212h2v1h-2zM418 204h4v3h-4zM419 207h3v1h-3zM419 199h3v1h-3zM418 200h4v2h-4zM419 202h3v1h-3zM419 194h3v1h-3zM418 195h4v3h-4zM419 189h2v1h-2zM418 190h4v3h-4zM419 184h2v1h-2zM418 185h4v3h-4zM419 188h2v1h-2zM419 179h2v1h-2zM418 180h4v3h-4zM419 183h2v1h-2zM418 175h4v3h-4zM419 178h2v1h-2zM418 170h4v3h-4zM419 173h3v1h-3zM419 165h3v1h-3zM418 166h4v2h-4zM419 168h3v1h-3zM419 160h3v1h-3zM418 161h4v3h-4zM419 155h2v1h-2zM418 156h4v3h-4zM419 150h2v1h-2zM418 151h4v3h-4zM420 154h1v1h-1zM419 145h2v1h-2zM418 146h4v3h-4zM419 149h2v1h-2zM418 141h4v3h-4zM419 144h2v1h-2zM418 136h4v3h-4zM419 139h3v1h-3zM419 131h3v1h-3zM418 132h4v2h-4zM419 134h3v1h-3zM419 126h3v1h-3zM418 127h4v3h-4zM419 121h2v1h-2zM418 122h4v3h-4zM419 116h2v1h-2zM418 117h4v3h-4zM420 120h1v1h-1zM419 111h2v1h-2zM418 112h4v3h-4zM419 115h2v1h-2zM418 107h4v3h-4zM419 110h2v1h-2zM418 102h4v3h-4zM419 105h2v1h-2zM419 97h3v1h-3zM418 98h4v2h-4zM419 100h3v1h-3zM419 92h3v1h-3zM418 93h4v3h-4zM419 87h2v1h-2zM418 88h4v3h-4zM419 82h2v1h-2zM418 83h4v3h-4zM420 86h1v1h-1zM419 77h2v1h-2zM418 78h4v3h-4zM419 81h2v1h-2zM436 422h1v1h-1zM435 423h4v3h-4zM436 426h2v1h-2zM435 418h4v3h-4zM436 421h2v1h-2zM435 413h4v3h-4zM435 416h3v1h-3zM435 408h3v1h-3zM435 409h4v3h-4zM436 403h2v1h-2zM435 404h4v3h-4zM436 398h2v1h-2zM435 399h4v3h-4zM436 393h2v1h-2zM435 394h4v3h-4zM436 397h2v1h-2zM436 388h1v1h-1zM435 389h4v3h-4zM436 392h2v1h-2zM435 384h4v3h-4zM436 387h2v1h-2zM435 379h4v3h-4zM435 382h3v1h-3zM435 374h3v1h-3zM435 375h4v2h-4zM435 377h3v1h-3zM435 369h3v1h-3zM435 370h4v3h-4zM436 364h2v1h-2zM435 365h4v3h-4zM436 359h2v1h-2zM435 360h4v3h-4zM436 363h2v1h-2zM436 354h2v1h-2zM435 355h4v3h-4zM436 358h2v1h-2zM435 350h4v3h-4zM436 353h2v1h-2zM435 345h4v3h-4zM435 348h3v1h-3zM435 340h3v1h-3zM435 341h4v2h-4zM435 343h3v1h-3zM435 335h3v1h-3zM435 336h4v3h-4zM436 330h2v1h-2zM435 331h4v3h-4zM436 325h2v1h-2zM435 326h4v3h-4zM436 329h2v1h-2zM436 320h2v1h-2zM435 321h4v3h-4zM436 324h2v1h-2zM435 316h4v3h-4zM436 319h2v1h-2zM435 311h4v3h-4zM436 314h2v1h-2zM435 306h4v3h-4zM435 309h3v1h-3zM452 330h3v1h-3zM452 331h4v2h-4zM452 333h3v1h-3zM453 325h2v1h-2zM452 326h4v3h-4zM453 329h1v1h-1zM453 320h1v1h-1zM452 321h4v3h-4zM453 324h2v1h-2zM452 316h3v1h-3zM452 317h4v2h-4zM452 319h3v1h-3zM452 311h3v1h-3zM452 312h4v2h-4zM452 314h3v1h-3zM452 306h3v1h-3zM452 307h4v2h-4zM452 309h3v1h-3zM452 301h3v1h-3zM452 302h4v2h-4zM452 304h3v1h-3zM452 296h3v1h-3zM452 297h4v2h-4zM452 299h3v1h-3zM453 291h2v1h-2zM452 292h4v3h-4zM453 295h1v1h-1zM453 286h1v1h-1zM452 287h4v3h-4zM453 290h2v1h-2zM453 281h1v1h-1zM452 282h4v3h-4zM453 285h2v1h-2zM452 277h3v1h-3zM452 278h4v2h-4zM452 280h3v1h-3zM452 272h3v1h-3zM452 273h4v2h-4zM452 275h3v1h-3zM452 267h3v1h-3zM452 268h4v2h-4zM452 270h3v1h-3zM452 262h3v1h-3zM452 263h4v2h-4zM452 265h3v1h-3zM453 257h2v1h-2zM452 258h4v3h-4zM453 261h1v1h-1zM453 252h2v1h-2zM452 253h4v3h-4zM453 256h2v1h-2zM453 247h1v1h-1zM452 248h4v3h-4zM453 251h2v1h-2zM452 243h3v1h-3zM452 244h4v2h-4zM452 246h3v1h-3zM452 238h3v1h-3zM452 239h4v2h-4zM452 241h3v1h-3zM452 233h3v1h-3zM452 234h4v2h-4zM452 236h3v1h-3zM452 228h3v1h-3zM452 229h4v2h-4zM452 231h3v1h-3zM452 223h3v1h-3zM452 224h4v3h-4zM453 218h2v1h-2zM452 219h4v3h-4zM453 222h1v1h-1zM453 213h1v1h-1zM452 214h4v3h-4zM453 217h2v1h-2zM452 209h3v1h-3zM452 210h4v2h-4zM452 212h3v1h-3zM452 204h3v1h-3zM452 205h4v2h-4zM452 207h3v1h-3zM452 199h3v1h-3zM452 200h4v2h-4zM452 202h3v1h-3zM452 194h3v1h-3zM452 195h4v2h-4zM452 197h3v1h-3zM452 189h3v1h-3zM452 190h4v2h-4zM452 192h3v1h-3zM453 184h2v1h-2zM452 185h4v3h-4zM453 188h1v1h-1zM453 179h1v1h-1zM452 180h4v3h-4zM453 183h2v1h-2zM452 175h3v1h-3zM452 176h4v2h-4zM452 178h3v1h-3zM452 170h3v1h-3zM452 171h4v2h-4zM452 173h3v1h-3zM452 165h3v1h-3zM452 166h4v2h-4zM452 168h3v1h-3zM452 160h3v1h-3zM452 161h4v2h-4zM452 163h3v1h-3zM452 155h3v1h-3zM452 156h4v2h-4zM452 158h3v1h-3zM453 150h2v1h-2zM452 151h4v3h-4zM453 154h1v1h-1zM453 145h1v1h-1zM452 146h4v3h-4zM453 149h2v1h-2zM452 141h3v1h-3zM452 142h4v2h-4zM452 144h3v1h-3zM452 136h3v1h-3zM452 137h4v2h-4zM452 139h3v1h-3zM452 131h3v1h-3zM452 132h4v2h-4zM452 134h3v1h-3zM452 126h3v1h-3zM452 127h4v2h-4zM452 129h3v1h-3zM452 121h3v1h-3zM452 122h4v2h-4zM452 124h3v1h-3zM453 116h2v1h-2zM452 117h4v3h-4zM453 120h1v1h-1zM453 111h1v1h-1zM452 112h4v3h-4zM453 115h2v1h-2zM453 106h1v1h-1zM452 107h4v3h-4zM453 110h2v1h-2zM452 102h3v1h-3zM452 103h4v2h-4zM452 105h3v1h-3zM452 97h3v1h-3zM452 98h4v2h-4zM452 100h3v1h-3zM452 92h3v1h-3zM452 93h4v2h-4zM452 95h3v1h-3zM452 87h3v1h-3zM452 88h4v2h-4zM452 90h3v1h-3zM453 82h2v1h-2zM452 83h4v3h-4zM453 86h1v1h-1zM453 77h2v1h-2zM452 78h4v3h-4zM453 81h2v1h-2zM470 422h1v1h-1zM469 423h3v1h-3zM468 424h5v1h-5zM468 425h4v1h-4zM469 426h3v1h-3zM469 418h3v1h-3zM468 419h5v1h-5zM468 420h4v1h-4zM469 421h3v1h-3zM469 413h3v1h-3zM468 414h5v2h-5zM469 416h3v1h-3zM469 408h3v1h-3zM468 409h5v2h-5zM469 411h3v1h-3zM469 403h3v1h-3zM468 404h5v2h-5zM469 406h3v1h-3zM469 398h3v1h-3zM468 399h4v1h-4zM468 400h5v1h-5zM469 401h3v1h-3zM470 393h1v1h-1zM469 394h3v1h-3zM468 395h5v1h-5zM469 396h3v1h-3zM470 397h1v1h-1zM470 388h1v1h-1zM469 389h3v1h-3zM468 390h5v1h-5zM468 391h4v1h-4zM469 392h3v1h-3zM469 384h3v1h-3zM468 385h5v1h-5zM468 386h4v1h-4zM469 387h3v1h-3zM469 379h3v1h-3zM468 380h5v2h-5zM469 382h3v1h-3zM469 374h3v1h-3zM468 375h5v2h-5zM469 377h3v1h-3zM469 369h3v1h-3zM468 370h5v2h-5zM469 372h3v1h-3zM469 364h3v1h-3zM468 365h4v1h-4zM468 366h5v1h-5zM469 367h3v1h-3zM469 359h2v1h-2zM468 360h4v1h-4zM468 361h5v1h-5zM469 362h3v1h-3zM470 363h1v1h-1zM470 354h1v1h-1zM469 355h3v1h-3zM468 356h5v1h-5zM468 357h4v1h-4zM469 358h2v1h-2zM469 350h3v1h-3zM468 351h5v1h-5zM468 352h4v1h-4zM469 353h3v1h-3zM469 345h3v1h-3zM468 346h5v2h-5zM469 348h3v1h-3zM469 340h3v1h-3zM468 341h5v2h-5zM469 343h3v1h-3zM469 335h3v1h-3zM468 336h5v2h-5zM469 338h3v1h-3zM469 330h3v1h-3zM468 331h4v1h-4zM468 332h5v1h-5zM469 333h3v1h-3zM469 325h2v1h-2zM468 326h4v1h-4zM468 327h5v1h-5zM469 328h3v1h-3zM470 329h1v1h-1zM485 350h4v3h-4zM486 353h2v1h-2zM486 345h3v1h-3zM485 346h4v2h-4zM486 348h3v1h-3zM486 340h3v1h-3zM485 341h4v2h-4zM486 343h3v1h-3zM486 335h3v1h-3zM485 336h4v2h-4zM486 338h3v1h-3zM486 330h2v1h-2zM485 331h4v3h-4zM486 325h2v1h-2zM485 326h4v3h-4zM487 329h1v1h-1zM486 320h2v1h-2zM485 321h4v3h-4zM486 324h2v1h-2zM485 316h4v3h-4zM486 319h2v1h-2zM486 311h3v1h-3zM485 312h4v2h-4zM486 314h3v1h-3zM486 306h3v1h-3zM485 307h4v2h-4zM486 309h3v1h-3zM486 301h3v1h-3zM485 302h4v2h-4zM486 304h3v1h-3zM486 296h3v1h-3zM485 297h4v3h-4zM486 291h2v1h-2zM485 292h4v3h-4zM487 295h1v1h-1zM486 286h2v1h-2zM485 287h4v3h-4zM486 290h2v1h-2zM485 282h4v3h-4zM486 285h2v1h-2zM485 277h4v3h-4zM486 280h3v1h-3zM486 272h3v1h-3zM485 273h4v2h-4zM486 275h3v1h-3zM486 267h3v1h-3zM485 268h4v2h-4zM486 270h3v1h-3zM486 262h3v1h-3zM485 263h4v3h-4zM486 257h2v1h-2zM485 258h4v3h-4zM487 261h1v1h-1zM486 252h2v1h-2zM485 253h4v3h-4zM486 256h2v1h-2zM487 247h1v1h-1zM485 248h4v3h-4zM486 251h2v1h-2zM485 243h4v3h-4zM486 246h3v1h-3zM486 238h3v1h-3zM485 239h4v2h-4zM486 241h3v1h-3zM486 233h3v1h-3zM485 234h4v2h-4zM486 236h3v1h-3zM486 228h3v1h-3zM485 229h4v3h-4zM486 223h2v1h-2zM485 224h4v3h-4zM486 218h2v1h-2zM485 219h4v3h-4zM486 222h2v1h-2zM487 213h1v1h-1zM485 214h4v3h-4zM486 217h2v1h-2zM485 209h4v3h-4zM486 212h3v1h-3zM486 204h3v1h-3zM485 205h4v2h-4zM486 207h3v1h-3zM486 199h3v1h-3zM485 200h4v2h-4zM486 202h3v1h-3zM486 194h3v1h-3zM485 195h4v2h-4zM486 197h3v1h-3zM486 189h2v1h-2zM485 190h4v3h-4zM486 184h2v1h-2zM485 185h4v3h-4zM487 188h1v1h-1zM487 179h1v1h-1zM485 180h4v3h-4zM486 183h2v1h-2zM485 175h4v3h-4zM486 178h2v1h-2zM486 170h3v1h-3zM485 171h4v2h-4zM486 173h3v1h-3zM486 165h3v1h-3zM485 166h4v2h-4zM486 168h3v1h-3zM486 160h3v1h-3zM485 161h4v2h-4zM486 163h3v1h-3zM486 155h2v1h-2zM485 156h4v3h-4zM486 150h2v1h-2zM485 151h4v3h-4zM487 154h1v1h-1zM487 145h1v1h-1zM485 146h4v3h-4zM486 149h2v1h-2zM485 141h4v3h-4zM486 144h2v1h-2zM486 136h3v1h-3zM485 137h4v2h-4zM486 139h3v1h-3zM486 131h3v1h-3zM485 132h4v2h-4zM486 134h3v1h-3zM486 126h3v1h-3zM485 127h4v2h-4zM486 129h3v1h-3zM486 121h3v1h-3zM485 122h4v3h-4zM486 116h2v1h-2zM485 117h4v3h-4zM487 120h1v1h-1zM486 111h2v1h-2zM485 112h4v3h-4zM486 115h2v1h-2zM485 107h4v3h-4zM486 110h2v1h-2zM485 102h4v3h-4zM486 105h3v1h-3zM520 320h2v1h-2zM519 321h4v3h-4zM520 324h2v1h-2zM519 316h4v3h-4zM520 319h2v1h-2zM519 311h3v1h-3zM519 312h4v2h-4zM519 314h3v1h-3zM519 306h3v1h-3zM519 307h4v2h-4zM519 309h3v1h-3zM519 301h3v1h-3zM519 302h4v2h-4zM519 304h3v1h-3zM519 296h3v1h-3zM519 297h4v3h-4zM520 291h2v1h-2zM519 292h4v3h-4zM520 295h1v1h-1zM520 286h2v1h-2zM519 287h4v3h-4zM520 290h2v1h-2zM519 282h4v3h-4zM520 285h2v1h-2zM519 277h4v3h-4zM519 280h3v1h-3zM519 272h3v1h-3zM519 273h4v2h-4zM519 275h3v1h-3zM519 267h3v1h-3zM519 268h4v2h-4zM519 270h3v1h-3zM519 262h3v1h-3zM519 263h4v3h-4zM520 257h2v1h-2zM519 258h4v3h-4zM520 261h1v1h-1zM520 252h2v1h-2zM519 253h4v3h-4zM520 256h2v1h-2zM520 247h1v1h-1zM519 248h4v3h-4zM520 251h2v1h-2zM519 243h4v3h-4zM519 246h3v1h-3zM519 238h3v1h-3zM519 239h4v2h-4zM519 241h3v1h-3zM519 233h3v1h-3zM519 234h4v2h-4zM519 236h3v1h-3zM519 228h3v1h-3zM519 229h4v3h-4zM520 223h2v1h-2zM519 224h4v3h-4zM520 218h2v1h-2zM519 219h4v3h-4zM520 222h2v1h-2zM520 213h1v1h-1zM519 214h4v3h-4zM520 217h2v1h-2zM519 209h4v3h-4zM519 212h3v1h-3zM519 204h3v1h-3zM519 205h4v2h-4zM519 207h3v1h-3zM519 199h3v1h-3zM519 200h4v2h-4zM519 202h3v1h-3zM519 194h3v1h-3zM519 195h4v2h-4zM519 197h3v1h-3zM520 189h2v1h-2zM519 190h4v3h-4zM520 184h2v1h-2zM519 185h4v3h-4zM520 188h1v1h-1zM520 179h1v1h-1zM519 180h4v3h-4zM520 183h2v1h-2zM519 175h4v3h-4zM520 178h2v1h-2zM519 170h3v1h-3zM519 171h4v2h-4zM519 173h3v1h-3zM519 165h3v1h-3zM519 166h4v2h-4zM519 168h3v1h-3zM519 160h3v1h-3zM519 161h4v2h-4zM519 163h3v1h-3zM520 155h2v1h-2zM519 156h4v3h-4zM520 150h2v1h-2zM519 151h4v3h-4zM520 154h1v1h-1zM520 145h1v1h-1zM519 146h4v3h-4zM520 149h2v1h-2zM519 141h4v3h-4zM520 144h2v1h-2zM519 136h3v1h-3zM519 137h4v2h-4zM519 139h3v1h-3zM519 131h3v1h-3zM519 132h4v2h-4zM519 134h3v1h-3zM519 126h3v1h-3zM519 127h4v2h-4zM519 129h3v1h-3zM519 121h3v1h-3zM519 122h4v3h-4zM520 116h2v1h-2zM519 117h4v3h-4zM520 120h1v1h-1zM520 111h2v1h-2zM519 112h4v3h-4zM520 115h2v1h-2zM519 107h4v3h-4zM520 110h2v1h-2zM519 102h4v3h-4zM519 105h3v1h-3zM519 97h3v1h-3zM519 98h4v2h-4zM519 100h3v1h-3zM519 92h3v1h-3zM519 93h4v2h-4zM519 95h3v1h-3zM519 87h3v1h-3zM519 88h4v3h-4zM520 82h2v1h-2zM519 83h4v3h-4zM520 86h1v1h-1zM520 77h2v1h-2zM519 78h4v3h-4zM520 81h2v1h-2z"/>
<path shape-rendering="crispEdges" fill="#0000FF" d="M83 92h3v1h-3zM83 93h4v2h-4zM83 95h3v1h-3zM83 87h3v1h-3zM83 88h4v1h-4zM82 89h5v1h-5zM83 90h3v1h-3zM84 82h2v1h-2zM83 83h4v1h-4zM82 84h5v1h-5zM83 85h4v1h-4zM84 86h1v1h-1zM84 77h2v1h-2zM83 78h4v1h-4zM82 79h5v1h-5zM83 80h4v1h-4zM84 81h2v1h-2zM100 364h3v1h-3zM99 365h4v1h-4zM99 366h5v1h-5zM100 367h3v1h-3zM100 359h2v1h-2zM99 360h4v1h-4zM99 361h5v1h-5zM100 362h3v1h-3zM101 363h1v1h-1zM151 82h2v1h-2zM150 83h4v3h-4zM151 86h1v1h-1zM151 77h2v1h-2zM150 78h4v3h-4zM151 81h2v1h-2zM150 160h3v1h-3zM150 161h4v2h-4zM150 163h3v1h-3zM150 155h3v1h-3zM150 156h4v3h-4zM151 150h2v1h-2zM150 151h4v3h-4zM151 154h1v1h-1zM168 422h1v1h-1zM167 423h3v1h-3zM166 424h5v1h-5zM167 425h4v1h-4zM167 426h3v1h-3zM217 165h3v1h-3zM217 166h4v2h-4zM217 168h3v1h-3zM217 160h3v1h-3zM217 161h4v3h-4zM218 155h2v1h-2zM217 156h4v3h-4zM218 150h2v1h-2zM217 151h4v3h-4zM218 154h1v1h-1zM218 145h2v1h-2zM217 146h4v3h-4zM218 149h2v1h-2zM217 141h4v3h-4zM218 144h2v1h-2zM217 136h4v3h-4zM217 139h3v1h-3zM217 131h3v1h-3zM217 132h4v2h-4zM217 134h3v1h-3zM217 126h3v1h-3zM217 127h4v3h-4zM218 121h2v1h-2zM217 122h4v3h-4zM218 116h2v1h-2zM217 117h4v3h-4zM218 120h1v1h-1zM218 111h2v1h-2zM217 112h4v3h-4zM218 115h2v1h-2zM217 107h4v3h-4zM218 110h2v1h-2zM217 102h4v3h-4zM217 105h3v1h-3zM217 97h3v1h-3zM217 98h4v2h-4zM217 100h3v1h-3zM217 92h3v1h-3zM217 93h4v2h-4zM217 95h3v1h-3zM217 233h3v1h-3zM217 234h4v2h-4zM217 236h3v1h-3zM217 228h3v1h-3zM217 229h4v3h-4zM284 243h4v3h-4zM285 246h2v1h-2zM284 238h4v3h-4zM284 241h3v1h-3zM284 233h3v1h-3zM284 234h4v3h-4zM285 228h2v1h-2zM284 229h4v3h-4zM285 223h2v1h-2zM284 224h4v3h-4zM285 218h2v1h-2zM284 219h4v3h-4zM285 222h2v1h-2zM285 213h1v1h-1zM284 214h4v3h-4zM285 217h2v1h-2zM284 209h4v3h-4zM285 212h2v1h-2zM284 204h4v3h-4zM284 207h3v1h-3zM284 199h3v1h-3zM284 200h4v3h-4zM285 194h2v1h-2zM284 195h4v3h-4zM285 189h2v1h-2zM284 190h4v3h-4zM285 184h2v1h-2zM284 185h4v3h-4zM285 188h2v1h-2zM285 179h2v1h-2zM284 180h4v3h-4zM285 183h2v1h-2zM284 175h4v3h-4zM285 178h2v1h-2zM284 170h4v3h-4zM285 173h2v1h-2zM284 165h4v4h-4zM284 306h4v3h-4zM284 309h3v1h-3zM351 277h4v3h-4zM352 280h2v1h-2zM351 272h4v3h-4zM352 275h3v1h-3zM352 267h3v1h-3zM351 268h4v3h-4zM352 262h2v1h-2zM351 263h4v3h-4zM352 257h2v1h-2zM351 258h4v3h-4zM352 252h2v1h-2zM351 253h4v3h-4zM352 256h2v1h-2zM351 248h4v3h-4zM352 251h2v1h-2zM351 243h4v3h-4zM352 246h2v1h-2zM351 238h4v3h-4zM352 241h3v1h-3zM351 311h4v3h-4zM352 314h2v1h-2zM351 379h4v3h-4zM352 382h2v1h-2zM351 374h4v4h-4zM352 369h2v1h-2zM351 370h4v3h-4zM402 102h3v1h-3zM401 103h5v1h-5zM401 104h4v1h-4zM402 105h3v1h-3zM402 97h3v1h-3zM401 98h4v2h-4zM402 100h3v1h-3zM402 92h3v1h-3zM401 93h4v2h-4zM402 95h3v1h-3zM402 87h3v1h-3zM401 88h4v1h-4zM401 89h5v1h-5zM402 90h3v1h-3zM419 369h3v1h-3zM418 370h4v3h-4zM469 92h3v1h-3zM468 93h5v2h-5zM469 95h3v1h-3zM469 87h3v1h-3zM468 88h5v2h-5zM469 90h3v1h-3zM469 82h3v1h-3zM468 83h4v1h-4zM468 84h5v1h-5zM469 85h3v1h-3zM470 86h1v1h-1zM470 77h1v1h-1zM469 78h3v1h-3zM468 79h5v1h-5zM469 80h3v1h-3zM470 81h1v1h-1zM469 175h3v1h-3zM468 176h5v1h-5zM468 177h4v1h-4zM469 178h3v1h-3zM469 170h3v1h-3zM468 171h5v2h-5zM469 173h3v1h-3zM469 165h3v1h-3zM468 166h5v2h-5zM469 168h3v1h-3zM469 160h3v1h-3zM468 161h5v2h-5zM469 163h3v1h-3zM487 422h1v1h-1zM485 423h4v3h-4zM486 426h2v1h-2z"/>
<path shape-rendering="crispEdges" fill="#1F7488" d="M83 301h3v1h-3zM83 302h4v2h-4zM83 304h3v1h-3zM83 296h3v1h-3zM83 297h4v1h-4zM82 298h5v1h-5zM83 299h3v1h-3zM84 291h2v1h-2zM83 292h4v1h-4zM82 293h5v1h-5zM83 294h4v1h-4zM84 295h1v1h-1zM84 286h1v1h-1zM83 287h4v1h-4zM82 288h5v1h-5zM83 289h4v1h-4zM84 290h2v1h-2zM84 281h1v1h-1zM83 282h3v1h-3zM82 283h5v1h-5zM83 284h4v1h-4zM83 285h3v1h-3zM83 277h3v1h-3zM82 278h5v1h-5zM83 279h4v1h-4zM83 280h3v1h-3zM83 272h3v1h-3zM83 273h4v2h-4zM83 275h3v1h-3zM83 267h3v1h-3zM83 268h4v2h-4zM83 270h3v1h-3zM83 262h3v1h-3zM83 263h4v1h-4zM82 264h5v1h-5zM83 265h3v1h-3zM84 257h2v1h-2zM83 258h4v1h-4zM82 259h5v1h-5zM83 260h3v1h-3zM84 261h1v1h-1zM84 252h2v1h-2zM83 253h4v1h-4zM82 254h5v1h-5zM83 255h4v1h-4zM84 256h1v1h-1zM84 247h1v1h-1zM83 248h4v1h-4zM82 249h5v1h-5zM83 250h4v1h-4zM84 251h2v1h-2zM83 243h3v1h-3zM82 244h5v1h-5zM83 245h4v1h-4zM83 246h3v1h-3zM83 238h3v1h-3zM83 239h4v2h-4zM83 241h3v1h-3zM83 233h3v1h-3zM83 234h4v2h-4zM83 236h3v1h-3zM83 228h3v1h-3zM83 229h4v1h-4zM82 230h5v1h-5zM83 231h3v1h-3zM83 223h3v1h-3zM83 224h4v1h-4zM82 225h5v1h-5zM83 226h3v1h-3zM84 218h2v1h-2zM83 219h4v1h-4zM82 220h5v1h-5zM83 221h4v1h-4zM84 222h1v1h-1zM84 213h1v1h-1zM83 214h4v1h-4zM82 215h5v1h-5zM83 216h4v1h-4zM84 217h2v1h-2zM83 209h3v1h-3zM82 210h5v1h-5zM83 211h4v1h-4zM83 212h3v1h-3zM83 204h3v1h-3zM83 205h4v2h-4zM83 207h3v1h-3zM83 199h3v1h-3zM83 200h4v2h-4zM83 202h3v1h-3zM83 194h3v1h-3zM83 195h4v2h-4zM83 197h3v1h-3zM83 189h3v1h-3zM83 190h4v1h-4zM82 191h5v1h-5zM83 192h3v1h-3zM84 184h2v1h-2zM83 185h4v1h-4zM82 186h5v1h-5zM83 187h4v1h-4zM84 188h1v1h-1zM84 179h1v1h-1zM83 180h4v1h-4zM82 181h5v1h-5zM83 182h4v1h-4zM84 183h2v1h-2zM83 175h3v1h-3zM82 176h5v1h-5zM83 177h4v1h-4zM83 178h3v1h-3zM83 170h3v1h-3zM83 171h4v2h-4zM83 173h3v1h-3zM83 165h3v1h-3zM83 166h4v2h-4zM83 168h3v1h-3zM83 160h3v1h-3zM83 161h4v2h-4zM83 163h3v1h-3zM83 155h3v1h-3zM83 156h4v1h-4zM82 157h5v1h-5zM83 158h3v1h-3zM84 150h2v1h-2zM83 151h4v1h-4zM82 152h5v1h-5zM83 153h4v1h-4zM84 154h1v1h-1zM84 145h1v1h-1zM83 146h4v1h-4zM82 147h5v1h-5zM83 148h4v1h-4zM84 149h2v1h-2zM83 141h3v1h-3zM82 142h5v1h-5zM83 143h4v1h-4zM83 144h3v1h-3zM83 136h3v1h-3zM82 137h5v1h-5zM83 138h4v1h-4zM83 139h3v1h-3zM83 131h3v1h-3zM83 132h4v2h-4zM83 134h3v1h-3zM83 126h3v1h-3zM83 127h4v2h-4zM83 129h3v1h-3zM83 121h3v1h-3zM83 122h4v1h-4zM82 123h5v1h-5zM83 124h3v1h-3zM84 116h2v1h-2zM83 117h4v1h-4zM82 118h5v1h-5zM83 119h4v1h-4zM84 120h1v1h-1zM84 111h1v1h-1zM83 112h4v1h-4zM82 113h5v1h-5zM83 114h4v1h-4zM84 115h2v1h-2zM84 106h1v1h-1zM83 107h3v1h-3zM82 108h5v1h-5zM83 109h4v1h-4zM83 110h3v1h-3zM83 102h3v1h-3zM82 103h5v1h-5zM83 104h4v1h-4zM83 105h3v1h-3zM83 97h3v1h-3zM83 98h4v2h-4zM83 100h3v1h-3zM100 296h3v1h-3zM99 297h4v1h-4zM99 298h5v1h-5zM100 299h3v1h-3zM100 291h3v1h-3zM99 292h4v1h-4zM99 293h5v1h-5zM100 294h3v1h-3zM101 295h1v1h-1zM101 286h1v1h-1zM100 287h3v1h-3zM99 288h5v1h-5zM99 289h4v1h-4zM101 290h1v1h-1zM101 281h1v1h-1zM100 282h3v1h-3zM99 283h5v1h-5zM99 284h4v1h-4zM100 285h3v1h-3zM100 277h3v1h-3zM99 278h5v1h-5zM99 279h4v1h-4zM100 280h3v1h-3zM100 272h3v1h-3zM99 273h5v2h-5zM100 275h3v1h-3zM100 267h3v1h-3zM99 268h5v2h-5zM100 270h3v1h-3zM100 262h3v1h-3zM99 263h4v1h-4zM99 264h5v1h-5zM100 265h3v1h-3zM100 257h3v1h-3zM99 258h4v1h-4zM99 259h5v1h-5zM100 260h3v1h-3zM101 261h1v1h-1zM101 252h1v1h-1zM99 253h4v1h-4zM99 254h5v1h-5zM99 255h4v1h-4zM101 256h1v1h-1zM150 345h3v1h-3zM150 346h4v2h-4zM150 348h3v1h-3zM150 340h3v1h-3zM150 341h4v2h-4zM150 343h3v1h-3zM150 335h3v1h-3zM150 336h4v2h-4zM150 338h3v1h-3zM150 330h3v1h-3zM150 331h4v3h-4zM151 325h2v1h-2zM150 326h4v3h-4zM151 329h1v1h-1zM151 320h1v1h-1zM150 321h4v3h-4zM151 324h2v1h-2zM150 316h4v3h-4zM151 319h2v1h-2zM150 311h3v1h-3zM150 312h4v2h-4zM150 314h3v1h-3zM150 306h3v1h-3zM150 307h4v2h-4zM150 309h3v1h-3zM150 301h3v1h-3zM150 302h4v2h-4zM150 304h3v1h-3zM150 296h3v1h-3zM150 297h4v3h-4zM151 291h2v1h-2zM150 292h4v3h-4zM151 295h1v1h-1zM151 286h2v1h-2zM150 287h4v3h-4zM151 290h2v1h-2zM151 281h1v1h-1zM150 282h4v3h-4zM151 285h2v1h-2zM150 277h3v1h-3zM150 278h4v2h-4zM150 280h3v1h-3zM150 272h3v1h-3zM150 273h4v2h-4zM150 275h3v1h-3zM150 267h3v1h-3zM150 268h4v2h-4zM150 270h3v1h-3zM150 262h3v1h-3zM150 263h4v3h-4zM151 257h2v1h-2zM150 258h4v3h-4zM151 261h1v1h-1zM151 252h2v1h-2zM150 253h4v3h-4zM151 256h2v1h-2zM151 247h1v1h-1zM150 248h4v3h-4zM151 251h2v1h-2zM150 243h4v3h-4zM150 246h3v1h-3zM150 238h3v1h-3zM150 239h4v2h-4zM150 241h3v1h-3zM150 233h3v1h-3zM150 234h4v2h-4zM150 236h3v1h-3zM150 228h3v1h-3zM150 229h4v2h-4zM150 231h3v1h-3zM151 223h2v1h-2zM150 224h4v3h-4zM151 218h2v1h-2zM150 219h4v3h-4zM151 222h2v1h-2zM151 213h1v1h-1zM150 214h4v3h-4zM151 217h2v1h-2zM150 209h4v3h-4zM150 212h3v1h-3zM150 204h3v1h-3zM150 205h4v2h-4zM150 207h3v1h-3zM150 199h3v1h-3zM150 200h4v2h-4zM150 202h3v1h-3zM150 194h3v1h-3zM150 195h4v2h-4zM150 197h3v1h-3zM151 189h2v1h-2zM150 190h4v3h-4zM151 184h2v1h-2zM150 185h4v3h-4zM151 188h1v1h-1zM151 179h1v1h-1zM150 180h4v3h-4zM151 183h2v1h-2zM150 175h4v3h-4zM150 178h3v1h-3zM150 170h3v1h-3zM150 171h4v2h-4zM150 173h3v1h-3zM150 165h3v1h-3zM150 166h4v2h-4zM150 168h3v1h-3zM167 364h3v1h-3zM166 365h5v2h-5zM167 367h3v1h-3zM168 359h2v1h-2zM167 360h3v1h-3zM166 361h5v1h-5zM167 362h3v1h-3zM168 363h1v1h-1zM168 354h1v1h-1zM167 355h3v1h-3zM166 356h5v1h-5zM167 357h3v1h-3zM168 358h2v1h-2zM167 350h3v1h-3zM166 351h5v2h-5zM167 353h3v1h-3zM167 345h3v1h-3zM166 346h5v2h-5zM167 348h3v1h-3zM167 340h3v1h-3zM166 341h5v2h-5zM167 343h3v1h-3zM167 335h3v1h-3zM166 336h5v2h-5zM167 338h3v1h-3zM167 330h3v1h-3zM166 331h5v2h-5zM167 333h3v1h-3zM218 87h2v1h-2zM217 88h4v3h-4zM218 82h2v1h-2zM217 83h4v3h-4zM218 86h1v1h-1zM218 77h2v1h-2zM217 78h4v3h-4zM218 81h2v1h-2zM217 384h4v3h-4zM218 387h2v1h-2zM217 379h4v3h-4zM217 382h3v1h-3zM217 374h3v1h-3zM217 375h4v2h-4zM217 377h3v1h-3zM217 369h3v1h-3zM217 370h4v3h-4zM218 364h2v1h-2zM217 365h4v3h-4zM218 359h2v1h-2zM217 360h4v3h-4zM218 363h2v1h-2zM218 354h1v1h-1zM217 355h4v3h-4zM218 358h2v1h-2zM217 350h4v3h-4zM218 353h2v1h-2zM217 345h4v3h-4zM217 348h3v1h-3zM217 340h3v1h-3zM217 341h4v2h-4zM217 343h3v1h-3zM217 335h3v1h-3zM217 336h4v3h-4zM218 330h2v1h-2zM217 331h4v3h-4zM218 325h2v1h-2zM217 326h4v3h-4zM218 329h1v1h-1zM218 320h2v1h-2zM217 321h4v3h-4zM218 324h2v1h-2zM217 316h4v3h-4zM218 319h2v1h-2zM217 311h4v3h-4zM217 314h3v1h-3zM217 306h3v1h-3zM217 307h4v2h-4zM217 309h3v1h-3zM217 301h3v1h-3zM217 302h4v3h-4zM218 296h2v1h-2zM217 297h4v3h-4zM218 291h2v1h-2zM217 292h4v3h-4zM218 295h1v1h-1zM218 286h2v1h-2zM217 287h4v3h-4zM218 290h2v1h-2zM217 282h4v3h-4zM218 285h2v1h-2zM217 277h4v3h-4zM217 280h3v1h-3zM217 272h3v1h-3zM217 273h4v2h-4zM217 275h3v1h-3zM217 267h3v1h-3zM217 268h4v2h-4zM217 270h3v1h-3zM218 262h2v1h-2zM217 263h4v3h-4zM218 257h2v1h-2zM217 258h4v3h-4zM218 261h1v1h-1zM218 252h2v1h-2zM217 253h4v3h-4zM218 256h2v1h-2zM218 247h1v1h-1zM217 248h4v3h-4zM218 251h2v1h-2zM217 243h4v3h-4zM218 246h2v1h-2zM217 238h3v1h-3zM217 239h4v2h-4zM217 241h3v1h-3zM235 422h1v1h-1zM234 423h3v1h-3zM233 424h5v1h-5zM234 425h4v1h-4zM235 426h2v1h-2zM234 418h3v1h-3zM233 419h5v1h-5zM234 420h4v1h-4zM234 421h3v1h-3zM234 413h3v1h-3zM233 414h5v1h-5zM234 415h4v1h-4zM234 416h3v1h-3zM268 97h3v1h-3zM267 98h4v2h-4zM268 100h3v1h-3zM268 92h3v1h-3zM267 93h4v2h-4zM268 95h3v1h-3zM268 87h2v1h-2zM267 88h4v3h-4zM268 82h2v1h-2zM267 83h4v3h-4zM269 86h1v1h-1zM268 77h2v1h-2zM267 78h4v3h-4zM268 81h2v1h-2zM285 160h2v1h-2zM284 161h4v3h-4zM285 155h2v1h-2zM284 156h4v3h-4zM285 150h2v1h-2zM284 151h4v3h-4zM285 154h2v1h-2zM285 145h2v1h-2zM284 146h4v3h-4zM285 149h2v1h-2zM284 141h4v3h-4zM285 144h2v1h-2zM285 422h1v1h-1zM284 423h4v3h-4zM285 426h2v1h-2zM284 418h4v3h-4zM285 421h2v1h-2zM284 413h4v3h-4zM284 416h3v1h-3zM284 408h3v1h-3zM284 409h4v3h-4zM285 403h2v1h-2zM284 404h4v3h-4zM285 398h2v1h-2zM284 399h4v3h-4zM285 393h2v1h-2zM284 394h4v3h-4zM285 397h2v1h-2zM285 388h1v1h-1zM284 389h4v3h-4zM285 392h2v1h-2zM284 384h4v3h-4zM285 387h2v1h-2zM284 379h4v3h-4zM284 382h3v1h-3zM284 374h3v1h-3zM284 375h4v3h-4zM285 369h2v1h-2zM284 370h4v3h-4zM285 364h2v1h-2zM284 365h4v3h-4zM285 359h2v1h-2zM284 360h4v3h-4zM285 363h2v1h-2zM285 354h2v1h-2zM284 355h4v3h-4zM285 358h2v1h-2zM284 350h4v3h-4zM285 353h2v1h-2zM284 345h4v3h-4zM285 348h2v1h-2zM284 340h4v4h-4zM284 335h3v1h-3zM284 336h4v3h-4zM285 330h2v1h-2zM284 331h4v3h-4zM285 325h2v1h-2zM284 326h4v3h-4zM285 329h2v1h-2zM285 320h2v1h-2zM284 321h4v3h-4zM285 324h2v1h-2zM284 316h4v3h-4zM285 319h2v1h-2zM284 311h4v3h-4zM285 314h2v1h-2zM334 175h4v3h-4zM335 178h3v1h-3zM335 170h3v1h-3zM334 171h4v2h-4zM335 173h3v1h-3zM335 165h3v1h-3zM334 166h4v2h-4zM335 168h3v1h-3zM335 160h3v1h-3zM334 161h4v2h-4zM335 163h3v1h-3zM335 155h3v1h-3zM334 156h4v3h-4zM335 150h2v1h-2zM334 151h4v3h-4zM336 154h1v1h-1zM336 145h1v1h-1zM334 146h4v3h-4zM335 149h2v1h-2zM334 141h4v3h-4zM335 144h2v1h-2zM335 136h3v1h-3zM334 137h4v2h-4zM335 139h3v1h-3zM335 131h3v1h-3zM334 132h4v2h-4zM335 134h3v1h-3zM335 126h3v1h-3zM334 127h4v2h-4zM335 129h3v1h-3zM335 121h3v1h-3zM334 122h4v3h-4zM335 116h2v1h-2zM334 117h4v3h-4zM336 120h1v1h-1zM335 111h2v1h-2zM334 112h4v3h-4zM335 115h2v1h-2zM334 107h4v3h-4zM335 110h2v1h-2zM335 102h3v1h-3zM334 103h4v2h-4zM335 105h3v1h-3zM335 97h3v1h-3zM334 98h4v2h-4zM335 100h3v1h-3zM335 92h3v1h-3zM334 93h4v2h-4zM335 95h3v1h-3zM335 87h3v1h-3zM334 88h4v3h-4zM335 82h2v1h-2zM334 83h4v3h-4zM336 86h1v1h-1zM335 77h2v1h-2zM334 78h4v3h-4zM335 81h2v1h-2zM352 233h3v1h-3zM351 234h4v3h-4zM352 228h2v1h-2zM351 229h4v3h-4zM352 223h2v1h-2zM351 224h4v3h-4zM352 218h2v1h-2zM351 219h4v3h-4zM352 222h2v1h-2zM351 423h4v3h-4zM352 426h2v1h-2zM351 418h4v3h-4zM352 421h2v1h-2zM351 413h4v3h-4zM352 416h3v1h-3zM352 408h3v1h-3zM351 409h4v3h-4zM352 403h2v1h-2zM351 404h4v3h-4zM352 398h2v1h-2zM351 399h4v3h-4zM352 393h2v1h-2zM351 394h4v3h-4zM352 397h2v1h-2zM352 388h2v1h-2zM351 389h4v3h-4zM352 392h2v1h-2zM351 384h4v3h-4zM352 387h2v1h-2zM402 238h3v1h-3zM401 239h4v2h-4zM402 241h3v1h-3zM402 233h3v1h-3zM401 234h4v2h-4zM402 236h3v1h-3zM402 228h3v1h-3zM401 229h4v1h-4zM401 230h5v1h-5zM402 231h3v1h-3zM402 223h3v1h-3zM401 224h4v1h-4zM401 225h5v1h-5zM402 226h3v1h-3zM402 218h2v1h-2zM401 219h4v1h-4zM401 220h5v1h-5zM401 221h4v1h-4zM403 222h1v1h-1zM403 213h1v1h-1zM401 214h4v1h-4zM401 215h5v1h-5zM401 216h4v1h-4zM402 217h2v1h-2zM402 209h3v1h-3zM401 210h5v1h-5zM401 211h4v1h-4zM402 212h3v1h-3zM402 204h3v1h-3zM401 205h4v2h-4zM402 207h3v1h-3zM402 199h3v1h-3zM401 200h4v2h-4zM402 202h3v1h-3zM402 194h3v1h-3zM401 195h4v1h-4zM401 196h5v1h-5zM402 197h3v1h-3zM402 189h3v1h-3zM401 190h4v1h-4zM401 191h5v1h-5zM402 192h3v1h-3zM402 184h2v1h-2zM401 185h4v1h-4zM401 186h5v1h-5zM401 187h4v1h-4zM403 188h1v1h-1zM403 179h1v1h-1zM401 180h4v1h-4zM401 181h5v1h-5zM401 182h4v1h-4zM402 183h2v1h-2zM402 175h3v1h-3zM401 176h5v1h-5zM401 177h4v1h-4zM402 178h3v1h-3zM402 170h3v1h-3zM401 171h5v1h-5zM401 172h4v1h-4zM402 173h3v1h-3zM402 165h3v1h-3zM401 166h4v2h-4zM402 168h3v1h-3zM402 160h3v1h-3zM401 161h4v2h-4zM402 163h3v1h-3zM402 155h3v1h-3zM401 156h4v1h-4zM401 157h5v1h-5zM402 158h3v1h-3zM402 150h2v1h-2zM401 151h4v1h-4zM401 152h5v1h-5zM401 153h4v1h-4zM403 154h1v1h-1zM403 145h1v1h-1zM401 146h4v1h-4zM401 147h5v1h-5zM401 148h4v1h-4zM402 149h2v1h-2zM402 141h3v1h-3zM401 142h5v1h-5zM401 143h4v1h-4zM402 144h3v1h-3zM402 136h3v1h-3zM401 137h5v1h-5zM401 138h4v1h-4zM402 139h3v1h-3zM402 131h3v1h-3zM401 132h4v2h-4zM402 134h3v1h-3zM402 126h3v1h-3zM401 127h4v2h-4zM402 129h3v1h-3zM402 121h3v1h-3zM401 122h4v1h-4zM401 123h5v1h-5zM402 124h3v1h-3zM402 116h2v1h-2zM401 117h4v1h-4zM401 118h5v1h-5zM401 119h4v1h-4zM403 120h1v1h-1zM403 111h1v1h-1zM401 112h4v1h-4zM401 113h5v1h-5zM401 114h4v1h-4zM402 115h2v1h-2zM403 106h1v1h-1zM402 107h3v1h-3zM401 108h5v1h-5zM401 109h4v1h-4zM402 110h3v1h-3zM419 306h3v1h-3zM418 307h4v2h-4zM419 309h3v1h-3zM419 301h3v1h-3zM418 302h4v3h-4zM419 296h2v1h-2zM418 297h4v3h-4zM470 111h1v1h-1zM469 112h3v1h-3zM468 113h5v1h-5zM469 114h3v1h-3zM470 115h1v1h-1zM470 106h1v1h-1zM469 107h3v1h-3zM468 108h5v1h-5zM468 109h4v1h-4zM469 110h3v1h-3zM469 301h3v1h-3zM468 302h5v2h-5zM469 304h3v1h-3zM469 296h3v1h-3zM468 297h4v1h-4zM468 298h5v1h-5zM469 299h3v1h-3zM469 291h3v1h-3zM468 292h4v1h-4zM468 293h5v1h-5zM469 294h3v1h-3zM470 295h1v1h-1zM470 286h1v1h-1zM469 287h3v1h-3zM468 288h5v1h-5zM469 289h3v1h-3zM470 290h1v1h-1zM470 281h1v1h-1zM469 282h3v1h-3zM468 283h5v1h-5zM468 284h4v1h-4zM469 285h3v1h-3zM469 277h3v1h-3zM468 278h5v2h-5zM469 280h3v1h-3zM469 272h3v1h-3zM468 273h5v2h-5zM469 275h3v1h-3zM469 267h3v1h-3zM468 268h5v2h-5zM469 270h3v1h-3zM469 262h3v1h-3zM468 263h5v2h-5zM469 265h3v1h-3zM469 257h3v1h-3zM468 258h4v1h-4zM468 259h5v1h-5zM469 260h3v1h-3zM470 261h1v1h-1zM470 252h1v1h-1zM469 253h3v1h-3zM468 254h5v1h-5zM469 255h3v1h-3zM470 256h1v1h-1zM470 247h1v1h-1zM469 248h3v1h-3zM468 249h5v1h-5zM468 250h4v1h-4zM469 251h3v1h-3zM469 243h3v1h-3zM468 244h5v2h-5zM469 246h3v1h-3zM469 238h3v1h-3zM468 239h5v2h-5zM469 241h3v1h-3zM469 233h3v1h-3zM468 234h5v2h-5zM469 236h3v1h-3zM469 228h3v1h-3zM468 229h5v2h-5zM469 231h3v1h-3zM469 223h3v1h-3zM468 224h4v1h-4zM468 225h5v1h-5zM469 226h3v1h-3zM470 227h1v1h-1zM470 218h1v1h-1zM469 219h3v1h-3zM468 220h5v1h-5zM469 221h3v1h-3zM470 222h1v1h-1zM470 213h1v1h-1zM469 214h3v1h-3zM468 215h5v1h-5zM468 216h4v1h-4zM469 217h3v1h-3zM469 209h3v1h-3zM468 210h5v1h-5zM468 211h4v1h-4zM469 212h3v1h-3zM469 204h3v1h-3zM468 205h5v2h-5zM469 207h3v1h-3zM469 199h3v1h-3zM468 200h5v2h-5zM469 202h3v1h-3zM469 194h3v1h-3zM468 195h5v2h-5zM469 197h3v1h-3zM469 189h3v1h-3zM468 190h4v1h-4zM468 191h5v1h-5zM469 192h3v1h-3zM469 184h2v1h-2zM468 185h4v1h-4zM468 186h5v1h-5zM469 187h3v1h-3zM470 188h1v1h-1zM470 179h1v1h-1zM469 180h3v1h-3zM468 181h5v1h-5zM468 182h4v1h-4zM469 183h2v1h-2zM486 374h3v1h-3zM485 375h4v2h-4zM486 377h3v1h-3z"/>
<path shape-rendering="crispEdges" fill="#FFA500" d="M83 340h3v1h-3zM83 341h4v2h-4zM83 343h3v1h-3zM83 335h3v1h-3zM83 336h4v2h-4zM83 338h3v1h-3zM83 330h3v1h-3zM83 331h4v1h-4zM82 332h5v1h-5zM83 333h3v1h-3zM84 325h2v1h-2zM83 326h4v1h-4zM82 327h5v1h-5zM83 328h4v1h-4zM84 329h1v1h-1zM84 320h1v1h-1zM83 321h4v1h-4zM82 322h5v1h-5zM83 323h4v1h-4zM84 324h2v1h-2zM83 316h3v1h-3zM82 317h5v1h-5zM83 318h4v1h-4zM83 319h3v1h-3zM83 311h3v1h-3zM82 312h5v1h-5zM83 313h4v1h-4zM83 314h3v1h-3zM83 306h3v1h-3zM83 307h4v2h-4zM83 309h3v1h-3zM101 247h1v1h-1zM100 248h3v1h-3zM99 249h5v1h-5zM99 250h4v1h-4zM100 251h3v1h-3zM100 243h3v1h-3zM99 244h5v1h-5zM99 245h4v1h-4zM100 246h3v1h-3zM100 238h3v1h-3zM99 239h5v2h-5zM100 241h3v1h-3zM100 233h3v1h-3zM99 234h5v2h-5zM100 236h3v1h-3zM100 228h3v1h-3zM99 229h4v1h-4zM99 230h5v1h-5zM100 231h3v1h-3zM100 223h3v1h-3zM99 224h4v1h-4zM99 225h5v1h-5zM100 226h3v1h-3zM101 227h1v1h-1zM150 369h3v1h-3zM150 370h4v2h-4zM150 372h3v1h-3zM151 364h2v1h-2zM150 365h4v3h-4zM151 359h2v1h-2zM150 360h4v3h-4zM151 363h1v1h-1zM151 354h1v1h-1zM150 355h4v3h-4zM151 358h2v1h-2zM150 350h4v3h-4zM151 353h2v1h-2zM167 325h3v2h-3zM166 327h5v1h-5zM167 328h3v1h-3zM168 329h1v1h-1zM168 320h1v1h-1zM167 321h3v1h-3zM166 322h5v1h-5zM167 323h3v1h-3zM168 324h1v1h-1zM167 316h3v1h-3zM166 317h5v1h-5zM167 318h4v1h-4zM167 319h3v1h-3zM167 311h3v1h-3zM166 312h5v2h-5zM167 314h3v1h-3zM167 306h3v1h-3zM166 307h5v2h-5zM167 309h3v1h-3zM218 422h1v1h-1zM217 423h4v3h-4zM218 426h2v1h-2zM217 418h4v3h-4zM218 421h2v1h-2zM217 413h3v1h-3zM217 414h4v2h-4zM217 416h3v1h-3zM217 408h3v1h-3zM217 409h4v2h-4zM217 411h3v1h-3zM234 408h3v1h-3zM234 409h4v1h-4zM233 410h5v1h-5zM234 411h3v1h-3zM234 403h3v1h-3zM234 404h4v1h-4zM233 405h5v1h-5zM234 406h3v1h-3zM234 398h3v1h-3zM234 399h4v1h-4zM233 400h5v1h-5zM234 401h3v1h-3zM235 393h2v1h-2zM234 394h4v1h-4zM233 395h5v1h-5zM234 396h4v1h-4zM235 397h1v1h-1zM235 388h1v1h-1zM234 389h3v1h-3zM233 390h5v1h-5zM234 391h4v1h-4zM235 392h2v1h-2zM267 136h4v3h-4zM268 139h3v1h-3zM268 131h3v1h-3zM267 132h4v2h-4zM268 134h3v1h-3zM268 126h3v1h-3zM267 127h4v3h-4zM268 121h2v1h-2zM267 122h4v3h-4zM268 116h2v1h-2zM267 117h4v3h-4zM269 120h1v1h-1zM284 136h4v3h-4zM285 139h2v1h-2zM284 131h4v3h-4zM284 134h3v1h-3zM284 126h3v1h-3zM284 127h4v3h-4zM285 121h2v1h-2zM284 122h4v3h-4zM335 194h3v1h-3zM334 195h4v2h-4zM335 197h3v1h-3zM335 189h2v1h-2zM334 190h4v3h-4zM335 184h2v1h-2zM334 185h4v3h-4zM336 188h1v1h-1zM336 179h1v1h-1zM334 180h4v3h-4zM335 183h2v1h-2zM352 213h2v1h-2zM351 214h4v3h-4zM352 217h2v1h-2zM351 209h4v3h-4zM352 212h2v1h-2zM351 204h4v3h-4zM352 207h2v1h-2zM402 257h2v1h-2zM401 258h4v1h-4zM401 259h5v1h-5zM402 260h3v1h-3zM403 261h1v1h-1zM402 252h2v1h-2zM401 253h4v1h-4zM401 254h5v1h-5zM401 255h4v1h-4zM403 256h1v1h-1zM403 247h1v1h-1zM401 248h4v1h-4zM401 249h5v1h-5zM401 250h4v1h-4zM402 251h2v1h-2zM402 243h3v1h-3zM401 244h5v1h-5zM401 245h4v1h-4zM402 246h3v1h-3zM419 291h2v1h-2zM418 292h4v3h-4zM420 295h1v1h-1zM419 286h2v1h-2zM418 287h4v3h-4zM419 290h2v1h-2zM418 282h4v3h-4zM419 285h2v1h-2zM418 277h4v3h-4zM419 280h2v1h-2zM470 320h1v1h-1zM469 321h3v1h-3zM468 322h5v1h-5zM468 323h4v1h-4zM469 324h2v1h-2zM469 316h3v1h-3zM468 317h5v1h-5zM468 318h4v1h-4zM469 319h3v1h-3zM469 311h3v1h-3zM468 312h5v2h-5zM469 314h3v1h-3zM469 306h3v1h-3zM468 307h5v2h-5zM469 309h3v1h-3zM486 369h3v1h-3zM485 370h4v2h-4zM486 372h3v1h-3zM486 364h2v1h-2zM485 365h4v3h-4zM486 359h2v1h-2zM485 360h4v3h-4zM487 363h1v1h-1zM487 354h1v1h-1zM485 355h4v3h-4zM486 358h2v1h-2z"/>
<path shape-rendering="crispEdges" fill="#FF00FF" d="M101 354h1v1h-1zM100 355h3v1h-3zM99 356h5v1h-5zM99 357h4v1h-4zM100 358h2v1h-2zM100 350h3v1h-3zM99 351h5v1h-5zM99 352h4v1h-4zM100 353h3v1h-3zM100 345h3v1h-3zM99 346h5v1h-5zM99 347h4v1h-4zM100 348h3v1h-3zM100 340h3v1h-3zM99 341h5v2h-5zM100 343h3v1h-3zM100 335h3v1h-3zM99 336h5v2h-5zM100 338h3v1h-3zM100 330h3v1h-3zM99 331h4v1h-4zM99 332h5v1h-5zM100 333h3v1h-3zM100 325h2v1h-2zM99 326h4v1h-4zM99 327h5v1h-5zM100 328h3v1h-3zM101 329h1v1h-1zM101 320h1v1h-1zM100 321h3v1h-3zM99 322h5v1h-5zM99 323h4v1h-4zM100 324h2v1h-2zM100 316h3v1h-3zM99 317h5v1h-5zM99 318h4v1h-4zM100 319h3v1h-3zM100 311h3v1h-3zM99 312h5v1h-5zM99 313h4v1h-4zM100 314h3v1h-3zM100 306h3v1h-3zM99 307h5v2h-5zM100 309h3v1h-3zM100 301h3v1h-3zM99 302h5v2h-5zM100 304h3v1h-3zM167 418h3v1h-3zM166 419h5v2h-5zM167 421h3v1h-3zM167 413h3v1h-3zM166 414h5v2h-5zM167 416h3v1h-3zM167 408h3v1h-3zM166 409h5v2h-5zM167 411h3v1h-3zM167 403h3v1h-3zM166 404h5v2h-5zM167 406h3v1h-3zM167 398h3v1h-3zM167 399h4v1h-4zM166 400h5v1h-5zM167 401h3v1h-3zM168 393h1v1h-1zM167 394h3v1h-3zM166 395h5v1h-5zM167 396h3v1h-3zM168 397h1v1h-1zM168 388h1v1h-1zM167 389h3v1h-3zM166 390h5v1h-5zM167 391h4v1h-4zM167 392h3v1h-3zM167 384h3v1h-3zM166 385h5v2h-5zM167 387h3v1h-3zM167 379h3v1h-3zM166 380h5v2h-5zM167 382h3v1h-3zM167 374h3v1h-3zM166 375h5v2h-5zM167 377h3v1h-3zM167 369h3v1h-3zM166 370h5v2h-5zM167 372h3v1h-3zM351 306h4v4h-4zM352 301h3v1h-3zM351 302h4v3h-4zM352 296h2v1h-2zM351 297h4v3h-4zM352 291h2v1h-2zM351 292h4v3h-4zM353 295h1v1h-1zM352 286h2v1h-2zM351 287h4v3h-4zM352 290h2v1h-2zM351 282h4v3h-4zM352 285h2v1h-2zM419 364h2v1h-2zM418 365h4v3h-4zM419 359h2v1h-2zM418 360h4v3h-4zM419 363h2v1h-2zM419 354h2v1h-2zM418 355h4v3h-4zM419 358h2v1h-2zM418 350h4v3h-4zM419 353h2v1h-2zM418 345h4v3h-4zM419 348h3v1h-3zM419 340h3v1h-3zM418 341h4v2h-4zM419 343h3v1h-3zM419 335h3v1h-3zM418 336h4v3h-4zM419 330h2v1h-2zM418 331h4v3h-4zM419 325h2v1h-2zM418 326h4v3h-4zM420 329h1v1h-1zM419 320h2v1h-2zM418 321h4v3h-4zM419 324h2v1h-2zM418 316h4v3h-4zM419 319h2v1h-2zM418 311h4v3h-4zM419 314h3v1h-3zM485 418h4v3h-4zM486 421h3v1h-3zM486 413h3v1h-3zM485 414h4v2h-4zM486 416h3v1h-3zM486 408h3v1h-3zM485 409h4v2h-4zM486 411h3v1h-3zM486 403h3v1h-3zM485 404h4v3h-4zM486 398h2v1h-2zM485 399h4v3h-4zM486 393h2v1h-2zM485 394h4v3h-4zM486 397h2v1h-2zM487 388h1v1h-1zM485 389h4v3h-4zM486 392h2v1h-2zM485 384h4v3h-4zM486 387h3v1h-3zM486 379h3v1h-3zM485 380h4v2h-4zM486 382h3v1h-3z"/>
<path shape-rendering="crispEdges" fill="#00ECF4" d="M100 384h3v1h-3zM99 385h5v1h-5zM99 386h4v1h-4zM100 387h3v1h-3zM100 379h3v1h-3zM99 380h5v2h-5zM100 382h3v1h-3zM100 374h3v1h-3zM99 375h5v2h-5zM100 377h3v1h-3zM100 369h3v1h-3zM99 370h4v1h-4zM99 371h5v1h-5zM100 372h3v1h-3zM101 422h1v1h-1zM100 423h3v1h-3zM99 424h5v1h-5zM99 425h4v1h-4zM100 426h3v1h-3zM100 418h3v1h-3zM99 419h5v1h-5zM99 420h4v1h-4zM100 421h3v1h-3zM150 102h3v1h-3zM150 103h4v2h-4zM150 105h3v1h-3zM150 97h3v1h-3zM150 98h4v2h-4zM150 100h3v1h-3zM150 92h3v1h-3zM150 93h4v2h-4zM150 95h3v1h-3zM150 87h3v1h-3zM150 88h4v3h-4zM151 145h1v1h-1zM150 146h4v3h-4zM151 149h2v1h-2zM150 141h4v3h-4zM151 144h2v1h-2zM150 136h3v1h-3zM150 137h4v2h-4zM150 139h3v1h-3zM218 184h2v1h-2zM217 185h4v3h-4zM218 188h2v1h-2zM218 179h1v1h-1zM217 180h4v3h-4zM218 183h2v1h-2zM217 175h4v3h-4zM218 178h2v1h-2zM217 170h4v3h-4zM217 173h3v1h-3zM218 223h2v1h-2zM217 224h4v3h-4zM218 218h2v1h-2zM217 219h4v3h-4zM218 222h2v1h-2zM218 213h1v1h-1zM217 214h4v3h-4zM218 217h2v1h-2zM285 257h2v1h-2zM284 258h4v3h-4zM285 252h2v1h-2zM284 253h4v3h-4zM285 256h2v1h-2zM284 248h4v3h-4zM285 251h2v1h-2zM284 301h3v1h-3zM284 302h4v3h-4zM285 296h2v1h-2zM284 297h4v3h-4zM285 291h2v1h-2zM284 292h4v3h-4zM285 295h1v1h-1zM352 325h2v1h-2zM351 326h4v3h-4zM352 329h2v1h-2zM352 320h2v1h-2zM351 321h4v3h-4zM352 324h2v1h-2zM351 316h4v3h-4zM352 319h2v1h-2zM352 364h2v1h-2zM351 365h4v3h-4zM352 359h2v1h-2zM351 360h4v3h-4zM352 363h2v1h-2zM352 354h2v1h-2zM351 355h4v3h-4zM352 358h2v1h-2zM402 82h2v1h-2zM401 83h4v1h-4zM401 84h5v1h-5zM402 85h3v1h-3zM403 86h1v1h-1zM402 77h2v1h-2zM401 78h4v1h-4zM401 79h5v1h-5zM401 80h4v1h-4zM403 81h1v1h-1zM419 393h2v1h-2zM418 394h4v3h-4zM419 397h2v1h-2zM420 388h1v1h-1zM418 389h4v3h-4zM419 392h2v1h-2zM418 384h4v3h-4zM419 387h2v1h-2zM418 379h4v3h-4zM419 382h3v1h-3zM419 374h3v1h-3zM418 375h4v2h-4zM419 377h3v1h-3zM420 422h1v1h-1zM418 423h4v3h-4zM419 426h2v1h-2zM469 102h3v1h-3zM468 103h5v2h-5zM469 105h3v1h-3zM469 97h3v1h-3zM468 98h5v2h-5zM469 100h3v1h-3zM469 116h3v1h-3zM468 117h4v1h-4zM468 118h5v1h-5zM469 119h3v1h-3zM470 120h1v1h-1zM469 155h3v1h-3zM468 156h4v1h-4zM468 157h5v1h-5zM469 158h3v1h-3zM469 150h2v1h-2zM468 151h4v1h-4zM468 152h5v1h-5zM469 153h3v1h-3zM470 154h1v1h-1zM470 145h1v1h-1zM469 146h3v1h-3zM468 147h5v1h-5zM468 148h4v1h-4zM469 149h2v1h-2z"/>
<path shape-rendering="crispEdges" fill="#666666" d="M100 413h3v1h-3zM99 414h5v2h-5zM100 416h3v1h-3zM100 408h3v1h-3zM99 409h5v2h-5zM100 411h3v1h-3zM100 403h3v1h-3zM99 404h4v1h-4zM99 405h5v1h-5zM100 406h3v1h-3zM100 398h3v1h-3zM99 399h4v1h-4zM99 400h5v1h-5zM100 401h3v1h-3zM100 393h2v1h-2zM99 394h4v1h-4zM99 395h5v1h-5zM100 396h3v1h-3zM101 397h1v1h-1zM101 388h1v1h-1zM100 389h3v1h-3zM99 390h5v1h-5zM99 391h4v1h-4zM100 392h2v1h-2zM150 131h3v1h-3zM150 132h4v2h-4zM150 134h3v1h-3zM150 126h3v1h-3zM150 127h4v2h-4zM150 129h3v1h-3zM150 121h3v1h-3zM150 122h4v3h-4zM151 116h2v1h-2zM150 117h4v3h-4zM151 120h1v1h-1zM151 111h2v1h-2zM150 112h4v3h-4zM151 115h2v1h-2zM150 107h4v3h-4zM151 110h2v1h-2zM217 209h4v3h-4zM218 212h2v1h-2zM217 204h4v3h-4zM217 207h3v1h-3zM217 199h3v1h-3zM217 200h4v2h-4zM217 202h3v1h-3zM217 194h3v1h-3zM217 195h4v3h-4zM218 189h2v1h-2zM217 190h4v3h-4zM285 286h2v1h-2zM284 287h4v3h-4zM285 290h2v1h-2zM284 282h4v3h-4zM285 285h2v1h-2zM284 277h4v3h-4zM285 280h2v1h-2zM284 272h4v3h-4zM284 275h3v1h-3zM284 267h3v1h-3zM284 268h4v3h-4zM285 262h2v1h-2zM284 263h4v3h-4zM351 350h4v3h-4zM352 353h2v1h-2zM351 345h4v3h-4zM352 348h2v1h-2zM351 340h4v4h-4zM352 335h2v1h-2zM351 336h4v3h-4zM352 330h2v1h-2zM351 331h4v3h-4zM418 418h4v3h-4zM419 421h2v1h-2zM418 413h4v3h-4zM419 416h3v1h-3zM419 408h3v1h-3zM418 409h4v2h-4zM419 411h3v1h-3zM419 403h3v1h-3zM418 404h4v3h-4zM419 398h2v1h-2zM418 399h4v3h-4zM469 141h3v1h-3zM468 142h5v1h-5zM468 143h4v1h-4zM469 144h3v1h-3zM469 136h3v1h-3zM468 137h5v2h-5zM469 139h3v1h-3zM469 131h3v1h-3zM468 132h5v2h-5zM469 134h3v1h-3zM469 126h3v1h-3zM468 127h5v2h-5zM469 129h3v1h-3zM469 121h3v1h-3zM468 122h4v1h-4zM468 123h5v1h-5zM469 124h3v1h-3z"/>
<path shape-rendering="crispEdges" fill="#000070" d="M217 403h3v1h-3zM217 404h4v3h-4zM218 398h2v1h-2zM217 399h4v3h-4zM218 393h2v1h-2zM217 394h4v3h-4zM218 397h2v1h-2zM218 388h1v1h-1zM217 389h4v3h-4zM218 392h2v1h-2zM268 111h2v1h-2zM267 112h4v3h-4zM268 115h2v1h-2zM267 107h4v3h-4zM268 110h2v1h-2zM267 102h4v3h-4zM268 105h3v1h-3z"/>
<path shape-rendering="crispEdges" fill="#FF0000" d="M435 301h3v1h-3zM435 302h4v3h-4zM436 296h2v1h-2zM435 297h4v3h-4zM436 291h2v1h-2zM435 292h4v3h-4zM436 295h1v1h-1zM436 286h2v1h-2zM435 287h4v3h-4zM436 290h2v1h-2zM435 282h4v3h-4zM436 285h2v1h-2zM435 277h4v3h-4zM436 280h2v1h-2zM435 272h4v3h-4zM435 275h3v1h-3zM435 267h3v1h-3zM435 268h4v3h-4zM436 262h2v1h-2zM435 263h4v3h-4zM436 257h2v1h-2zM435 258h4v3h-4zM436 252h2v1h-2zM435 253h4v3h-4zM436 256h2v1h-2zM436 247h1v1h-1zM435 248h4v3h-4zM436 251h2v1h-2zM435 243h4v3h-4zM436 246h2v1h-2zM435 238h4v3h-4zM435 241h3v1h-3zM435 233h3v1h-3zM435 234h4v3h-4zM436 228h2v1h-2zM435 229h4v3h-4zM436 223h2v1h-2zM435 224h4v3h-4zM436 218h2v1h-2zM435 219h4v3h-4zM436 222h2v1h-2zM436 213h1v1h-1zM435 214h4v3h-4zM436 217h2v1h-2zM435 209h4v3h-4zM436 212h2v1h-2zM435 204h4v3h-4zM435 207h3v1h-3zM435 199h3v1h-3zM435 200h4v3h-4zM436 194h2v1h-2zM435 195h4v3h-4zM436 189h2v1h-2zM435 190h4v3h-4zM436 184h2v1h-2zM435 185h4v3h-4zM436 188h2v1h-2zM436 179h2v1h-2zM435 180h4v3h-4zM436 183h2v1h-2zM435 175h4v3h-4zM436 178h2v1h-2zM435 170h4v3h-4zM435 173h3v1h-3zM435 165h3v1h-3zM435 166h4v2h-4zM435 168h3v1h-3zM435 160h3v1h-3zM435 161h4v3h-4zM436 155h2v1h-2zM435 156h4v3h-4zM436 150h2v1h-2zM435 151h4v3h-4zM436 154h2v1h-2zM436 145h2v1h-2zM435 146h4v3h-4zM436 149h2v1h-2zM435 141h4v3h-4zM436 144h2v1h-2zM435 136h4v3h-4zM436 139h2v1h-2zM435 131h4v3h-4zM435 134h3v1h-3zM435 126h3v1h-3zM435 127h4v3h-4zM436 121h2v1h-2zM435 122h4v3h-4zM436 116h2v1h-2zM435 117h4v3h-4zM436 120h1v1h-1zM436 111h2v1h-2zM435 112h4v3h-4zM436 115h2v1h-2zM435 107h4v3h-4zM436 110h2v1h-2zM435 102h4v3h-4zM436 105h2v1h-2zM435 97h4v3h-4zM435 100h3v1h-3zM435 92h3v1h-3zM435 93h4v3h-4zM436 87h2v1h-2zM435 88h4v3h-4zM436 82h2v1h-2zM435 83h4v3h-4zM436 77h2v1h-2zM435 78h4v3h-4zM436 81h2v1h-2zM453 422h1v1h-1zM452 423h4v3h-4zM453 426h2v1h-2zM452 418h3v1h-3zM452 419h4v2h-4zM452 421h3v1h-3zM452 413h3v1h-3zM452 414h4v2h-4zM452 416h3v1h-3zM452 408h3v1h-3zM452 409h4v2h-4zM452 411h3v1h-3zM452 403h3v1h-3zM452 404h4v2h-4zM452 406h3v1h-3zM452 398h3v1h-3zM452 399h4v3h-4zM453 393h2v1h-2zM452 394h4v3h-4zM453 397h1v1h-1zM453 388h1v1h-1zM452 389h4v3h-4zM453 392h2v1h-2zM452 384h3v1h-3zM452 385h4v2h-4zM452 387h3v1h-3zM452 379h3v1h-3zM452 380h4v2h-4zM452 382h3v1h-3zM452 374h3v1h-3zM452 375h4v2h-4zM452 377h3v1h-3zM452 369h3v1h-3zM452 370h4v2h-4zM452 372h3v1h-3zM452 364h3v1h-3zM452 365h4v2h-4zM452 367h3v1h-3zM453 359h2v1h-2zM452 360h4v3h-4zM453 363h1v1h-1zM453 354h1v1h-1zM452 355h4v3h-4zM453 358h2v1h-2zM452 350h3v1h-3zM452 351h4v2h-4zM452 353h3v1h-3zM452 345h3v1h-3zM452 346h4v2h-4zM452 348h3v1h-3zM452 340h3v1h-3zM452 341h4v2h-4zM452 343h3v1h-3zM452 335h3v1h-3zM452 336h4v2h-4zM452 338h3v1h-3zM486 97h3v1h-3zM485 98h4v2h-4zM486 100h3v1h-3zM486 92h3v1h-3zM485 93h4v2h-4zM486 95h3v1h-3zM486 87h3v1h-3zM485 88h4v3h-4zM486 82h2v1h-2zM485 83h4v3h-4zM487 86h1v1h-1zM486 77h2v1h-2zM485 78h4v3h-4zM486 81h2v1h-2zM502 423h4v3h-4zM503 426h2v1h-2zM502 418h4v3h-4zM503 421h2v1h-2zM502 413h4v3h-4zM503 416h2v1h-2zM502 408h4v4h-4zM503 403h2v1h-2zM502 404h4v3h-4zM503 398h2v1h-2zM502 399h4v3h-4zM503 393h2v1h-2zM502 394h4v3h-4zM503 397h2v1h-2zM503 388h2v1h-2zM502 389h4v3h-4zM503 392h2v1h-2zM502 384h4v3h-4zM503 387h2v1h-2zM502 379h4v3h-4zM503 382h2v1h-2zM502 374h4v4h-4zM503 369h2v1h-2zM502 370h4v3h-4zM503 364h2v1h-2zM502 365h4v3h-4zM503 359h2v1h-2zM502 360h4v3h-4zM503 363h2v1h-2zM503 354h2v1h-2zM502 355h4v3h-4zM503 358h2v1h-2zM502 350h4v3h-4zM503 353h2v1h-2zM502 345h4v3h-4zM503 348h2v1h-2zM502 340h4v4h-4zM503 335h2v1h-2zM502 336h4v3h-4zM503 330h2v1h-2zM502 331h4v3h-4zM503 325h2v1h-2zM502 326h4v3h-4zM503 329h2v1h-2zM503 320h2v1h-2zM502 321h4v3h-4zM503 324h2v1h-2zM502 316h4v3h-4zM503 319h2v1h-2zM502 311h4v3h-4zM503 314h2v1h-2zM502 306h4v4h-4zM503 301h2v1h-2zM502 302h4v3h-4zM503 296h2v1h-2zM502 297h4v3h-4zM503 291h2v1h-2zM502 292h4v3h-4zM503 286h2v1h-2zM502 287h4v3h-4zM503 290h2v1h-2zM502 282h4v3h-4zM503 285h2v1h-2zM502 277h4v3h-4zM503 280h2v1h-2zM502 272h4v4h-4zM503 267h2v1h-2zM502 268h4v3h-4zM503 262h2v1h-2zM502 263h4v3h-4zM503 257h2v1h-2zM502 258h4v3h-4zM503 252h2v1h-2zM502 253h4v3h-4zM503 256h2v1h-2zM502 248h4v3h-4zM503 251h2v1h-2zM502 243h4v3h-4zM503 246h2v1h-2zM502 238h4v3h-4zM503 241h2v1h-2zM502 233h4v4h-4zM503 228h2v1h-2zM502 229h4v3h-4zM503 223h2v1h-2zM502 224h4v3h-4zM503 218h2v1h-2zM502 219h4v3h-4zM503 222h2v1h-2zM503 213h2v1h-2zM502 214h4v3h-4zM503 217h2v1h-2zM502 209h4v3h-4zM503 212h2v1h-2zM502 204h4v3h-4zM503 207h2v1h-2zM502 199h4v4h-4zM503 194h2v1h-2zM502 195h4v3h-4zM503 189h2v1h-2zM502 190h4v3h-4zM503 184h2v1h-2zM502 185h4v3h-4zM503 188h2v1h-2zM503 179h2v1h-2zM502 180h4v3h-4zM503 183h2v1h-2zM502 175h4v3h-4zM503 178h2v1h-2zM502 170h4v3h-4zM503 173h2v1h-2zM502 165h4v4h-4zM503 160h2v1h-2zM502 161h4v3h-4zM503 155h2v1h-2zM502 156h4v3h-4zM503 150h2v1h-2zM502 151h4v3h-4zM503 154h2v1h-2zM503 145h2v1h-2zM502 146h4v3h-4zM503 149h2v1h-2zM502 141h4v3h-4zM503 144h2v1h-2zM502 136h4v3h-4zM503 139h2v1h-2zM502 131h4v4h-4zM503 126h2v1h-2zM502 127h4v3h-4zM503 121h2v1h-2zM502 122h4v3h-4zM503 116h2v1h-2zM502 117h4v3h-4zM503 120h2v1h-2zM503 111h2v1h-2zM502 112h4v3h-4zM503 115h2v1h-2zM502 107h4v3h-4zM503 110h2v1h-2zM502 102h4v3h-4zM503 105h2v1h-2zM502 97h4v4h-4zM503 92h2v1h-2zM502 93h4v3h-4zM503 87h2v1h-2zM502 88h4v3h-4zM503 82h2v1h-2zM502 83h4v3h-4zM503 77h2v1h-2zM502 78h4v3h-4zM503 81h2v1h-2zM520 422h1v1h-1zM519 423h4v3h-4zM520 426h2v1h-2zM519 418h4v3h-4zM519 421h3v1h-3zM519 413h3v1h-3zM519 414h4v2h-4zM519 416h3v1h-3zM519 408h3v1h-3zM519 409h4v2h-4zM519 411h3v1h-3zM519 403h3v1h-3zM519 404h4v3h-4zM520 398h2v1h-2zM519 399h4v3h-4zM520 393h2v1h-2zM519 394h4v3h-4zM520 397h2v1h-2zM520 388h1v1h-1zM519 389h4v3h-4zM520 392h2v1h-2zM519 384h4v3h-4zM519 387h3v1h-3zM519 379h3v1h-3zM519 380h4v2h-4zM519 382h3v1h-3zM519 374h3v1h-3zM519 375h4v2h-4zM519 377h3v1h-3zM519 369h3v1h-3zM519 370h4v2h-4zM519 372h3v1h-3zM520 364h2v1h-2zM519 365h4v3h-4zM520 359h2v1h-2zM519 360h4v3h-4zM520 363h1v1h-1zM520 354h1v1h-1zM519 355h4v3h-4zM520 358h2v1h-2zM519 350h4v3h-4zM520 353h2v1h-2zM519 345h3v1h-3zM519 346h4v2h-4zM519 348h3v1h-3zM519 340h3v1h-3zM519 341h4v2h-4zM519 343h3v1h-3zM519 335h3v1h-3zM519 336h4v2h-4zM519 338h3v1h-3zM520 330h2v1h-2zM519 331h4v3h-4zM520 325h2v1h-2zM519 326h4v3h-4zM520 329h1v1h-1z"/>
<path shape-rendering="crispEdges" fill="#66142B" d="M84 337h2v1h-2zM83 338h4v1h-4zM82 339h6v1h-6zM81 340h3v1h-3zM86 340h3v1h-3zM80 341h3v1h-3zM87 341h3v1h-3zM79 342h3v1h-3zM88 342h3v1h-3zM78 343h3v1h-3zM89 343h3v1h-3zM79 344h3v1h-3zM88 344h3v1h-3zM80 345h3v1h-3zM87 345h3v1h-3zM81 346h3v1h-3zM86 346h3v1h-3zM82 347h6v1h-6zM83 348h4v1h-4zM84 349h2v1h-2zM101 218h1v1h-1zM100 219h3v1h-3zM99 220h5v1h-5zM98 221h3v1h-3zM102 221h3v1h-3zM97 222h3v1h-3zM103 222h3v1h-3zM96 223h3v1h-3zM104 223h3v1h-3zM95 224h3v1h-3zM105 224h3v1h-3zM95 225h3v1h-3zM105 225h3v1h-3zM96 226h3v1h-3zM104 226h3v1h-3zM97 227h3v1h-3zM103 227h3v1h-3zM98 228h3v1h-3zM102 228h3v1h-3zM99 229h5v1h-5zM100 230h3v1h-3zM101 231h1v1h-1zM151 374h1v1h-1zM150 375h3v1h-3zM149 376h5v1h-5zM148 377h7v1h-7zM147 378h4v1h-4zM153 378h3v1h-3zM146 379h4v1h-4zM154 379h3v1h-3zM145 380h4v1h-4zM155 380h3v1h-3zM145 381h4v1h-4zM155 381h3v1h-3zM146 382h4v1h-4zM154 382h3v1h-3zM147 383h4v1h-4zM153 383h3v1h-3zM148 384h7v1h-7zM149 385h5v1h-5zM150 386h3v1h-3zM151 387h1v1h-1zM168 298h1v1h-1zM167 299h3v1h-3zM166 300h5v1h-5zM165 301h7v1h-7zM164 302h4v1h-4zM170 302h3v1h-3zM163 303h4v1h-4zM171 303h3v1h-3zM162 304h4v1h-4zM172 304h3v1h-3zM162 305h4v1h-4zM172 305h3v1h-3zM163 306h4v1h-4zM171 306h3v1h-3zM164 307h4v1h-4zM170 307h3v1h-3zM165 308h7v1h-7zM166 309h5v1h-5zM167 310h3v1h-3zM168 311h1v1h-1zM201 78h2v1h-2zM200 79h4v1h-4zM199 80h6v1h-6zM198 81h4v1h-4zM203 81h3v1h-3zM197 82h4v1h-4zM204 82h3v1h-3zM196 83h4v1h-4zM205 83h3v1h-3zM195 84h4v1h-4zM206 84h3v1h-3zM196 85h4v1h-4zM205 85h3v1h-3zM197 86h4v1h-4zM204 86h3v1h-3zM198 87h4v1h-4zM203 87h3v1h-3zM199 88h6v1h-6zM200 89h4v1h-4zM201 90h2v1h-2zM235 384h2v1h-2zM234 385h4v1h-4zM233 386h6v1h-6zM232 387h3v1h-3zM237 387h3v1h-3zM231 388h3v1h-3zM238 388h3v1h-3zM230 389h3v1h-3zM239 389h3v1h-3zM229 390h3v1h-3zM240 390h3v1h-3zM230 391h3v1h-3zM239 391h3v1h-3zM231 392h3v1h-3zM238 392h3v1h-3zM232 393h3v1h-3zM237 393h3v1h-3zM233 394h6v1h-6zM234 395h4v1h-4zM235 396h2v1h-2zM269 134h1v1h-1zM268 135h3v1h-3zM267 136h5v1h-5zM266 137h3v1h-3zM270 137h3v1h-3zM265 138h3v1h-3zM271 138h3v1h-3zM264 139h3v1h-3zM272 139h3v1h-3zM263 140h3v1h-3zM273 140h3v1h-3zM263 141h3v1h-3zM273 141h3v1h-3zM264 142h3v1h-3zM272 142h3v1h-3zM265 143h3v1h-3zM271 143h3v1h-3zM266 144h3v1h-3zM270 144h3v1h-3zM267 145h5v1h-5zM268 146h3v1h-3zM269 147h1v1h-1zM285 117h2v1h-2zM284 118h4v1h-4zM283 119h6v1h-6zM282 120h4v1h-4zM287 120h3v1h-3zM281 121h4v1h-4zM288 121h3v1h-3zM280 122h4v1h-4zM289 122h3v1h-3zM279 123h4v1h-4zM290 123h3v1h-3zM280 124h3v1h-3zM289 124h3v1h-3zM281 125h3v1h-3zM288 125h3v1h-3zM282 126h3v1h-3zM287 126h3v1h-3zM283 127h6v1h-6zM284 128h4v1h-4zM285 129h2v1h-2zM335 193h2v1h-2zM334 194h4v1h-4zM333 195h6v1h-6zM332 196h4v1h-4zM337 196h3v1h-3zM331 197h4v1h-4zM338 197h3v1h-3zM330 198h4v1h-4zM339 198h3v1h-3zM329 199h4v1h-4zM340 199h3v1h-3zM330 200h4v1h-4zM339 200h3v1h-3zM331 201h4v1h-4zM338 201h3v1h-3zM332 202h4v1h-4zM337 202h3v1h-3zM333 203h6v1h-6zM334 204h4v1h-4zM335 205h2v1h-2zM353 195h1v1h-1zM352 196h3v1h-3zM351 197h5v1h-5zM350 198h3v1h-3zM354 198h3v1h-3zM349 199h3v1h-3zM355 199h3v1h-3zM348 200h3v1h-3zM356 200h3v1h-3zM347 201h3v1h-3zM357 201h3v1h-3zM347 202h3v1h-3zM357 202h3v1h-3zM348 203h3v1h-3zM356 203h3v1h-3zM349 204h3v1h-3zM355 204h3v1h-3zM350 205h3v1h-3zM354 205h3v1h-3zM351 206h5v1h-5zM352 207h3v1h-3zM353 208h1v1h-1zM403 252h1v1h-1zM402 253h3v1h-3zM401 254h5v1h-5zM400 255h3v1h-3zM404 255h3v1h-3zM399 256h3v1h-3zM405 256h3v1h-3zM398 257h3v1h-3zM406 257h3v1h-3zM397 258h3v1h-3zM407 258h3v1h-3zM397 259h3v1h-3zM407 259h3v1h-3zM398 260h3v1h-3zM406 260h3v1h-3zM399 261h3v1h-3zM405 261h3v1h-3zM400 262h3v1h-3zM404 262h3v1h-3zM401 263h5v1h-5zM402 264h3v1h-3zM403 265h1v1h-1zM420 272h1v1h-1zM419 273h3v1h-3zM418 274h5v1h-5zM417 275h3v1h-3zM421 275h3v1h-3zM416 276h3v1h-3zM422 276h3v1h-3zM415 277h3v1h-3zM423 277h3v1h-3zM414 278h3v1h-3zM424 278h3v1h-3zM414 279h3v1h-3zM424 279h3v1h-3zM415 280h3v1h-3zM423 280h3v1h-3zM416 281h3v1h-3zM422 281h3v1h-3zM417 282h3v1h-3zM421 282h3v1h-3zM418 283h5v1h-5zM419 284h3v1h-3zM420 285h1v1h-1zM470 316h1v1h-1zM469 317h3v1h-3zM468 318h5v1h-5zM467 319h7v1h-7zM466 320h4v1h-4zM472 320h3v1h-3zM465 321h4v1h-4zM473 321h3v1h-3zM464 322h4v1h-4zM474 322h3v1h-3zM464 323h4v1h-4zM474 323h3v1h-3zM465 324h4v1h-4zM473 324h3v1h-3zM466 325h4v1h-4zM472 325h3v1h-3zM467 326h7v1h-7zM468 327h5v1h-5zM469 328h3v1h-3zM470 329h1v1h-1zM487 349h1v1h-1zM486 350h3v1h-3zM485 351h5v1h-5zM484 352h3v1h-3zM488 352h3v1h-3zM483 353h3v1h-3zM489 353h3v1h-3zM482 354h3v1h-3zM490 354h3v1h-3zM481 355h3v1h-3zM491 355h3v1h-3zM481 356h3v1h-3zM491 356h3v1h-3zM482 357h3v1h-3zM490 357h3v1h-3zM483 358h3v1h-3zM489 358h3v1h-3zM484 359h3v1h-3zM488 359h3v1h-3zM485 360h5v1h-5zM486 361h3v1h-3zM487 362h1v1h-1z"/>
<path shape-rendering="crispEdges" fill="#FF0000" d="M434 300h5v2h2v4h-2v3h-5v-3h-2v-4h2z"/>
<path shape-rendering="crispEdges" fill="#FF0000" d="M451 332h5v2h2v4h-2v3h-5v-3h-2v-4h2z"/>
<path shape-rendering="crispEdges" fill="#FF0000" d="M485 98h5v2h2v4h-2v3h-5v-3h-2v-4h2z"/>
<path shape-rendering="crispEdges" fill="#FF0000" d="M518 322h5v2h2v4h-2v3h-5v-3h-2v-4h2z"/>
<text class="hv" x="185.3" y="19.8" font-size="17" word-spacing="-1.5" stroke="#000" stroke-width="0.15" textLength="278.5" lengthAdjust="spacing">IKI - Satellite Situation Center (SSC)</text>
<rect shape-rendering="crispEdges" x="181" y="25" width="288" height="1" fill="#000"/>
<text class="hv" x="33.8" y="43.9" font-size="16" stroke="#000" stroke-width="0.2" textLength="64" lengthAdjust="spacing">IB_TAIL:</text>
<text class="hs" transform="translate(143.4,44.7) scale(1.12,1)" font-size="10.3" textLength="14.3" lengthAdjust="spacing">MS</text>
<text class="hs" transform="translate(182.6,44.7) scale(1.12,1)" font-size="10.3" textLength="11.1" lengthAdjust="spacing">BL</text>
<text class="hs" transform="translate(221.6,44.7) scale(1.12,1)" font-size="10.3" textLength="25.9" lengthAdjust="spacing">LOBS</text>
<text class="hs" transform="translate(266.6,44.7) scale(1.12,1)" font-size="10.3" textLength="19.1" lengthAdjust="spacing">CAP</text>
<text class="hs" transform="translate(305,44.7) scale(1.12,1)" font-size="10.3" textLength="20.5" lengthAdjust="spacing">AUR</text>
<text class="hs" transform="translate(344.6,44.7) scale(1.12,1)" font-size="10.3" textLength="13.2" lengthAdjust="spacing">RB</text>
<text class="hs" transform="translate(383.4,44.7) scale(1.12,1)" font-size="10.3" textLength="27.3" lengthAdjust="spacing">CUSP</text>
<text class="hs" transform="translate(429.4,44.7) scale(1.12,1)" font-size="10.3" textLength="13.6" lengthAdjust="spacing">PS</text>
<text class="hs" transform="translate(468.6,44.7) scale(1.12,1)" font-size="10.3" textLength="14.3" lengthAdjust="spacing">MP</text>
<text class="hs" transform="translate(507.6,44.7) scale(1.12,1)" font-size="10.3" textLength="13.2" lengthAdjust="spacing">BS</text>
<ellipse cx="168.6" cy="44.6" rx="2.6" ry="2.5" fill="#66142B"/>
<ellipse cx="207.4" cy="44.6" rx="2.6" ry="2.5" fill="#FFA500"/>
<ellipse cx="259.4" cy="44.6" rx="2.6" ry="2.5" fill="#1F7488"/>
<ellipse cx="292" cy="44.6" rx="3.0" ry="2.5" fill="#0000FF"/>
<ellipse cx="331" cy="44.6" rx="3.0" ry="2.5" fill="#00ECF4"/>
<ellipse cx="369.6" cy="44.6" rx="3.0" ry="2.5" fill="#666666"/>
<ellipse cx="422" cy="44.6" rx="3.0" ry="2.5" fill="#FF00FF"/>
<ellipse cx="454.6" cy="44.6" rx="2.6" ry="2.5" fill="#000070"/>
<path fill="none" stroke="#66142B" stroke-width="1.1" shape-rendering="crispEdges" d="M489.5 44.5L493.5 40.5L498.5 44.5L493.5 49.5Z"/>
<path shape-rendering="crispEdges" fill="#FF0000" d="M531 41h3v2h2v3h-2v2h-3v-2h-2v-3h2z"/>
<text class="hs" x="59" y="89" font-size="13.7" text-anchor="end">24</text>
<text class="hs" x="59" y="127" font-size="13.7" text-anchor="end">21</text>
<text class="hs" x="59" y="171" font-size="13.7" text-anchor="end">18</text>
<text class="hs" x="59" y="214" font-size="13.7" text-anchor="end">15</text>
<text class="hs" x="59" y="258" font-size="13.7" text-anchor="end">12</text>
<text class="hs" x="59" y="302" font-size="13.7" text-anchor="end">9</text>
<text class="hs" x="59" y="346" font-size="13.7" text-anchor="end">6</text>
<text class="hs" x="59" y="389" font-size="13.7" text-anchor="end">3</text>
<text class="hs" x="59" y="424.5" font-size="13.7" text-anchor="end">0</text>
<text class="hs" font-size="13.5" transform="translate(28.8,328.7) rotate(-90)" textLength="71.7" lengthAdjust="spacing">Universal</text>
<text class="hs" font-size="13.5" transform="translate(28.8,251.3) rotate(-90)" textLength="26.8" lengthAdjust="spacingAndGlyphs">time</text>
<text class="hs" font-size="13.5" transform="translate(28.8,216.2) rotate(-90)" textLength="53.2" lengthAdjust="spacing">(hours)</text>
<text class="hs" x="65.5" y="445.6" font-size="9.5" text-anchor="middle">1</text>
<text class="hs" x="81.5" y="445.6" font-size="9.5" text-anchor="middle">2</text>
<text class="hs" x="98.5" y="445.6" font-size="9.5" text-anchor="middle">3</text>
<text class="hs" x="115.5" y="445.6" font-size="9.5" text-anchor="middle">4</text>
<text class="hs" x="132.5" y="445.6" font-size="9.5" text-anchor="middle">5</text>
<text class="hs" x="148.5" y="445.6" font-size="9.5" text-anchor="middle">6</text>
<text class="hs" x="165.5" y="445.6" font-size="9.5" text-anchor="middle">7</text>
<text class="hs" x="182.5" y="445.6" font-size="9.5" text-anchor="middle">8</text>
<text class="hs" x="199.5" y="445.6" font-size="9.5" text-anchor="middle">9</text>
<text class="hs" x="215.5" y="445.6" font-size="9.5" text-anchor="middle">10</text>
<text class="hs" x="232.5" y="445.6" font-size="9.5" text-anchor="middle">11</text>
<text class="hs" x="249.5" y="445.6" font-size="9.5" text-anchor="middle">12</text>
<text class="hs" x="266.5" y="445.6" font-size="9.5" text-anchor="middle">13</text>
<text class="hs" x="283.5" y="445.6" font-size="9.5" text-anchor="middle">14</text>
<text class="hs" x="299.5" y="445.6" font-size="9.5" text-anchor="middle">15</text>
<text class="hs" x="316.5" y="445.6" font-size="9.5" text-anchor="middle">16</text>
<text class="hs" x="333.5" y="445.6" font-size="9.5" text-anchor="middle">17</text>
<text class="hs" x="350.5" y="445.6" font-size="9.5" text-anchor="middle">18</text>
<text class="hs" x="366.5" y="445.6" font-size="9.5" text-anchor="middle">19</text>
<text class="hs" x="383.5" y="445.6" font-size="9.5" text-anchor="middle">20</text>
<text class="hs" x="400.5" y="445.6" font-size="9.5" text-anchor="middle">21</text>
<text class="hs" x="417.5" y="445.6" font-size="9.5" text-anchor="middle">22</text>
<text class="hs" x="434.5" y="445.6" font-size="9.5" text-anchor="middle">23</text>
<text class="hs" x="450.5" y="445.6" font-size="9.5" text-anchor="middle">24</text>
<text class="hs" x="467.5" y="445.6" font-size="9.5" text-anchor="middle">25</text>
<text class="hs" x="484.5" y="445.6" font-size="9.5" text-anchor="middle">26</text>
<text class="hs" x="501.5" y="445.6" font-size="9.5" text-anchor="middle">27</text>
<text class="hs" x="517.5" y="445.6" font-size="9.5" text-anchor="middle">28</text>
<text class="hs" x="534.5" y="445.6" font-size="9.5" text-anchor="middle">29</text>
<text class="hv" x="262.5" y="461.4" font-size="16" stroke="#000" stroke-width="0.3" textLength="69" lengthAdjust="spacing">February</text>
<text class="hv" transform="translate(356.3,461.4) scale(0.88,1)" font-size="16" stroke="#000" stroke-width="0.4">1998</text>
<text class="hs" x="195.6" y="477.4" font-size="13.5" textLength="32.4" lengthAdjust="spacing">http:</text>
<text class="hs" transform="translate(231.2,478.4) skewX(-11)" font-size="19">/</text>
<text class="hs" transform="translate(240.8,478.4) skewX(-11)" font-size="19">/</text>
<text class="hs" x="251" y="477.4" font-size="13.5" textLength="98.6" lengthAdjust="spacing">www.iki.rssi.ru</text>
<text class="hs" transform="translate(352.6,478.4) skewX(-11)" font-size="19">/</text>
<text class="hs" x="363.6" y="477.4" font-size="13.5" textLength="60.4" lengthAdjust="spacing">vprokhor</text>
<text class="hs" transform="translate(428.2,478.4) skewX(-11)" font-size="19">/</text>
<text class="hs" x="439.6" y="477.4" font-size="13.5" textLength="79.4" lengthAdjust="spacing">camp2.htm</text>
</svg></body></html>
